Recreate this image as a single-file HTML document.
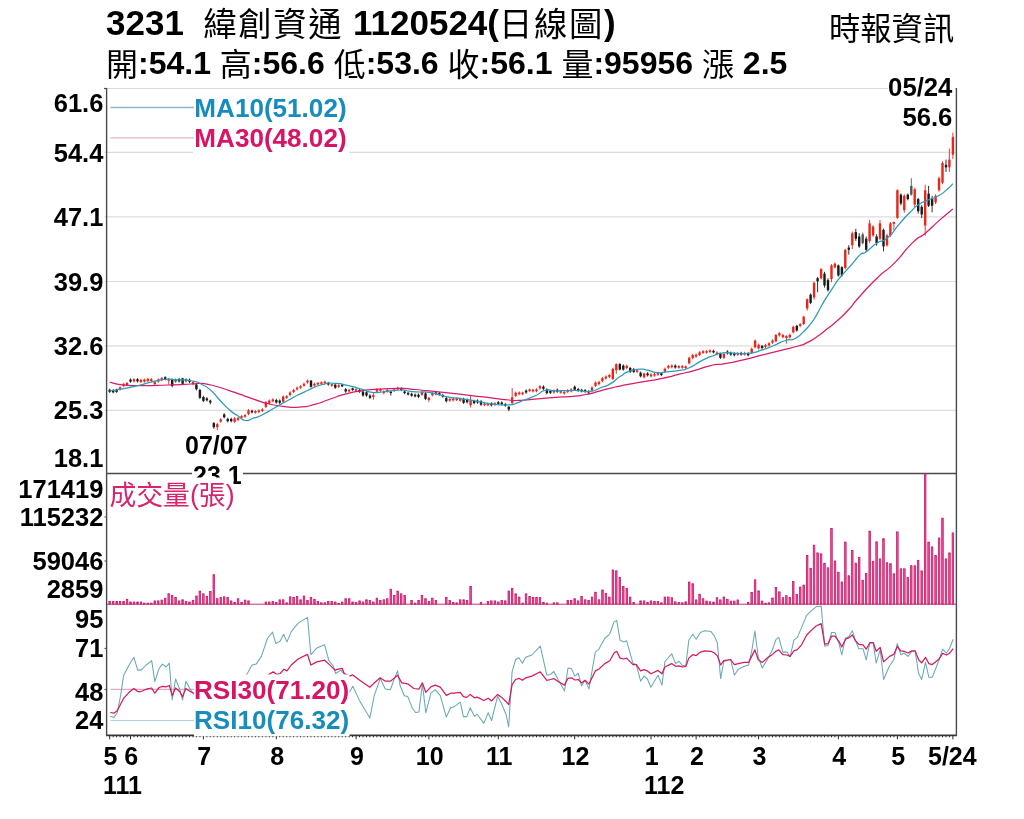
<!DOCTYPE html>
<html lang="zh-Hant"><head><meta charset="utf-8"><title>3231 緯創資通 日線圖</title>
<style>html,body{margin:0;padding:0;background:#fff}svg{display:block}</style></head>
<body>
<svg width="1024" height="819" viewBox="0 0 1024 819" font-family="Liberation Sans, Noto Sans CJK TC, sans-serif">
<rect width="1024" height="819" fill="#fff"/>
<line x1="104.5" x2="956" y1="88.5" y2="88.5" stroke="#dcdcdc" stroke-width="1.2"/>
<line x1="104.5" x2="956" y1="152.3" y2="152.3" stroke="#dcdcdc" stroke-width="1.2"/>
<line x1="104.5" x2="956" y1="216.8" y2="216.8" stroke="#dcdcdc" stroke-width="1.2"/>
<line x1="104.5" x2="956" y1="281.5" y2="281.5" stroke="#dcdcdc" stroke-width="1.2"/>
<line x1="104.5" x2="956" y1="345.8" y2="345.8" stroke="#dcdcdc" stroke-width="1.2"/>
<line x1="104.5" x2="956" y1="410.3" y2="410.3" stroke="#dcdcdc" stroke-width="1.2"/>
<g shape-rendering="auto">
<line x1="109.7" x2="109.7" y1="388.7" y2="392.9" stroke="#1a1a1a" stroke-width="0.9"/>
<rect x="108.5" y="389.7" width="2.4" height="2.2" fill="#1a1a1a"/>
<line x1="113.2" x2="113.2" y1="389.1" y2="393.4" stroke="#1a1a1a" stroke-width="0.9"/>
<rect x="112.0" y="390.1" width="2.4" height="2.2" fill="#1a1a1a"/>
<line x1="116.6" x2="116.6" y1="388.7" y2="392.9" stroke="#1a1a1a" stroke-width="0.9"/>
<rect x="115.4" y="389.7" width="2.4" height="2.2" fill="#1a1a1a"/>
<line x1="120.1" x2="120.1" y1="386.3" y2="390.5" stroke="#e8261c" stroke-width="0.9"/>
<rect x="118.9" y="387.3" width="2.4" height="2.2" fill="#e8261c"/>
<line x1="123.6" x2="123.6" y1="382.9" y2="387.1" stroke="#e8261c" stroke-width="0.9"/>
<rect x="122.4" y="383.9" width="2.4" height="2.2" fill="#e8261c"/>
<line x1="127.1" x2="127.1" y1="382.0" y2="386.2" stroke="#e8261c" stroke-width="0.9"/>
<rect x="125.9" y="383.0" width="2.4" height="2.2" fill="#e8261c"/>
<line x1="130.5" x2="130.5" y1="378.5" y2="382.7" stroke="#1a1a1a" stroke-width="0.9"/>
<rect x="129.3" y="379.5" width="2.4" height="2.2" fill="#1a1a1a"/>
<line x1="134.0" x2="134.0" y1="378.2" y2="382.4" stroke="#e8261c" stroke-width="0.9"/>
<rect x="132.8" y="379.2" width="2.4" height="2.2" fill="#e8261c"/>
<line x1="137.5" x2="137.5" y1="378.2" y2="382.4" stroke="#1a1a1a" stroke-width="0.9"/>
<rect x="136.3" y="379.2" width="2.4" height="2.2" fill="#1a1a1a"/>
<line x1="140.9" x2="140.9" y1="378.8" y2="383.0" stroke="#e8261c" stroke-width="0.9"/>
<rect x="139.7" y="379.8" width="2.4" height="2.2" fill="#e8261c"/>
<line x1="144.4" x2="144.4" y1="378.5" y2="382.7" stroke="#e8261c" stroke-width="0.9"/>
<rect x="143.2" y="379.5" width="2.4" height="2.2" fill="#e8261c"/>
<line x1="147.9" x2="147.9" y1="377.9" y2="382.1" stroke="#e8261c" stroke-width="0.9"/>
<rect x="146.7" y="378.9" width="2.4" height="2.2" fill="#e8261c"/>
<line x1="151.3" x2="151.3" y1="377.9" y2="382.1" stroke="#e8261c" stroke-width="0.9"/>
<rect x="150.1" y="379.1" width="2.4" height="1.9" fill="#e8261c"/>
<line x1="154.8" x2="154.8" y1="380.7" y2="385.3" stroke="#e8261c" stroke-width="0.9"/>
<rect x="153.6" y="381.9" width="2.4" height="2.2" fill="#e8261c"/>
<line x1="158.3" x2="158.3" y1="378.5" y2="382.7" stroke="#e8261c" stroke-width="0.9"/>
<rect x="157.1" y="379.5" width="2.4" height="2.2" fill="#e8261c"/>
<line x1="161.8" x2="161.8" y1="377.0" y2="381.2" stroke="#e8261c" stroke-width="0.9"/>
<rect x="160.6" y="378.0" width="2.4" height="2.2" fill="#e8261c"/>
<line x1="165.2" x2="165.2" y1="376.2" y2="380.4" stroke="#1a1a1a" stroke-width="0.9"/>
<rect x="164.0" y="377.2" width="2.4" height="2.2" fill="#1a1a1a"/>
<line x1="168.7" x2="168.7" y1="378.3" y2="384.5" stroke="#e8261c" stroke-width="0.9"/>
<rect x="167.5" y="378.8" width="2.4" height="1.9" fill="#e8261c"/>
<line x1="172.2" x2="172.2" y1="378.6" y2="387.3" stroke="#1a1a1a" stroke-width="0.9"/>
<rect x="171.0" y="379.8" width="2.4" height="6.2" fill="#1a1a1a"/>
<line x1="175.6" x2="175.6" y1="378.5" y2="382.7" stroke="#555" stroke-width="0.9"/>
<rect x="174.4" y="379.5" width="2.4" height="2.2" fill="#555"/>
<line x1="179.1" x2="179.1" y1="377.9" y2="382.6" stroke="#1a1a1a" stroke-width="0.9"/>
<rect x="177.9" y="379.1" width="2.4" height="2.3" fill="#1a1a1a"/>
<line x1="182.6" x2="182.6" y1="377.8" y2="385.0" stroke="#1a1a1a" stroke-width="0.9"/>
<rect x="181.4" y="378.3" width="2.4" height="5.5" fill="#1a1a1a"/>
<line x1="186.0" x2="186.0" y1="378.2" y2="382.4" stroke="#555" stroke-width="0.9"/>
<rect x="184.8" y="379.2" width="2.4" height="2.2" fill="#555"/>
<line x1="189.5" x2="189.5" y1="378.6" y2="383.1" stroke="#1a1a1a" stroke-width="0.9"/>
<rect x="188.3" y="379.8" width="2.4" height="2.0" fill="#1a1a1a"/>
<line x1="193.0" x2="193.0" y1="380.9" y2="385.1" stroke="#e8261c" stroke-width="0.9"/>
<rect x="191.8" y="381.9" width="2.4" height="2.2" fill="#e8261c"/>
<line x1="196.4" x2="196.4" y1="383.3" y2="390.4" stroke="#1a1a1a" stroke-width="0.9"/>
<rect x="195.2" y="384.5" width="2.4" height="4.7" fill="#1a1a1a"/>
<line x1="199.9" x2="199.9" y1="388.8" y2="399.0" stroke="#1a1a1a" stroke-width="0.9"/>
<rect x="198.7" y="390.0" width="2.4" height="7.8" fill="#1a1a1a"/>
<line x1="203.4" x2="203.4" y1="395.8" y2="402.1" stroke="#1a1a1a" stroke-width="0.9"/>
<rect x="202.2" y="397.0" width="2.4" height="3.9" fill="#1a1a1a"/>
<line x1="206.9" x2="206.9" y1="397.2" y2="401.5" stroke="#1a1a1a" stroke-width="0.9"/>
<rect x="205.7" y="398.4" width="2.4" height="1.9" fill="#1a1a1a"/>
<line x1="210.3" x2="210.3" y1="399.7" y2="404.4" stroke="#1a1a1a" stroke-width="0.9"/>
<rect x="209.1" y="400.6" width="2.4" height="1.9" fill="#1a1a1a"/>
<line x1="213.8" x2="213.8" y1="422.0" y2="428.8" stroke="#1a1a1a" stroke-width="0.9"/>
<rect x="212.6" y="423.1" width="2.4" height="4.1" fill="#1a1a1a"/>
<line x1="217.3" x2="217.3" y1="422.8" y2="430.3" stroke="#e8261c" stroke-width="0.9"/>
<rect x="216.1" y="424.1" width="2.4" height="3.1" fill="#e8261c"/>
<line x1="220.7" x2="220.7" y1="418.2" y2="422.8" stroke="#e8261c" stroke-width="0.9"/>
<rect x="219.5" y="419.4" width="2.4" height="2.2" fill="#e8261c"/>
<line x1="224.2" x2="224.2" y1="413.2" y2="418.4" stroke="#1a1a1a" stroke-width="0.9"/>
<rect x="223.0" y="414.4" width="2.4" height="2.8" fill="#1a1a1a"/>
<line x1="227.7" x2="227.7" y1="417.7" y2="422.4" stroke="#1a1a1a" stroke-width="0.9"/>
<rect x="226.5" y="418.9" width="2.4" height="2.3" fill="#1a1a1a"/>
<line x1="231.2" x2="231.2" y1="417.7" y2="422.4" stroke="#1a1a1a" stroke-width="0.9"/>
<rect x="230.0" y="418.9" width="2.4" height="2.3" fill="#1a1a1a"/>
<line x1="234.6" x2="234.6" y1="417.2" y2="423.1" stroke="#e8261c" stroke-width="0.9"/>
<rect x="233.4" y="418.4" width="2.4" height="3.4" fill="#e8261c"/>
<line x1="238.1" x2="238.1" y1="416.9" y2="421.2" stroke="#e8261c" stroke-width="0.9"/>
<rect x="236.9" y="418.1" width="2.4" height="1.9" fill="#e8261c"/>
<line x1="241.6" x2="241.6" y1="415.1" y2="418.7" stroke="#e8261c" stroke-width="0.9"/>
<rect x="240.4" y="416.1" width="2.4" height="1.6" fill="#e8261c"/>
<line x1="245.0" x2="245.0" y1="414.1" y2="417.8" stroke="#e8261c" stroke-width="0.9"/>
<rect x="243.8" y="415.1" width="2.4" height="1.6" fill="#e8261c"/>
<line x1="248.5" x2="248.5" y1="409.1" y2="415.3" stroke="#e8261c" stroke-width="0.9"/>
<rect x="247.3" y="410.3" width="2.4" height="3.8" fill="#e8261c"/>
<line x1="252.0" x2="252.0" y1="409.7" y2="413.4" stroke="#1a1a1a" stroke-width="0.9"/>
<rect x="250.8" y="410.8" width="2.4" height="1.6" fill="#1a1a1a"/>
<line x1="255.4" x2="255.4" y1="410.1" y2="413.7" stroke="#e8261c" stroke-width="0.9"/>
<rect x="254.2" y="411.1" width="2.4" height="1.6" fill="#e8261c"/>
<line x1="258.9" x2="258.9" y1="409.4" y2="413.1" stroke="#e8261c" stroke-width="0.9"/>
<rect x="257.7" y="410.4" width="2.4" height="1.6" fill="#e8261c"/>
<line x1="262.4" x2="262.4" y1="408.2" y2="412.1" stroke="#e8261c" stroke-width="0.9"/>
<rect x="261.2" y="409.4" width="2.4" height="1.6" fill="#e8261c"/>
<line x1="265.9" x2="265.9" y1="401.0" y2="408.1" stroke="#e8261c" stroke-width="0.9"/>
<rect x="264.7" y="402.2" width="2.4" height="4.7" fill="#e8261c"/>
<line x1="269.3" x2="269.3" y1="399.4" y2="404.5" stroke="#e8261c" stroke-width="0.9"/>
<rect x="268.1" y="400.6" width="2.4" height="2.7" fill="#e8261c"/>
<line x1="272.8" x2="272.8" y1="398.2" y2="402.4" stroke="#e8261c" stroke-width="0.9"/>
<rect x="271.6" y="399.4" width="2.4" height="1.9" fill="#e8261c"/>
<line x1="276.3" x2="276.3" y1="398.8" y2="403.7" stroke="#1a1a1a" stroke-width="0.9"/>
<rect x="275.1" y="400.0" width="2.4" height="2.5" fill="#1a1a1a"/>
<line x1="279.7" x2="279.7" y1="399.4" y2="404.0" stroke="#1a1a1a" stroke-width="0.9"/>
<rect x="278.5" y="400.6" width="2.4" height="2.2" fill="#1a1a1a"/>
<line x1="283.2" x2="283.2" y1="395.4" y2="402.9" stroke="#e8261c" stroke-width="0.9"/>
<rect x="282.0" y="396.6" width="2.4" height="5.2" fill="#e8261c"/>
<line x1="286.7" x2="286.7" y1="395.1" y2="399.0" stroke="#e8261c" stroke-width="0.9"/>
<rect x="285.5" y="396.2" width="2.4" height="1.6" fill="#e8261c"/>
<line x1="290.1" x2="290.1" y1="391.3" y2="396.2" stroke="#e8261c" stroke-width="0.9"/>
<rect x="288.9" y="392.5" width="2.4" height="2.5" fill="#e8261c"/>
<line x1="293.6" x2="293.6" y1="388.8" y2="393.1" stroke="#e8261c" stroke-width="0.9"/>
<rect x="292.4" y="390.0" width="2.4" height="1.9" fill="#e8261c"/>
<line x1="297.1" x2="297.1" y1="386.5" y2="390.6" stroke="#e8261c" stroke-width="0.9"/>
<rect x="295.9" y="387.7" width="2.4" height="1.7" fill="#e8261c"/>
<line x1="300.6" x2="300.6" y1="385.1" y2="389.0" stroke="#e8261c" stroke-width="0.9"/>
<rect x="299.4" y="386.2" width="2.4" height="1.6" fill="#e8261c"/>
<line x1="304.0" x2="304.0" y1="382.6" y2="386.8" stroke="#e8261c" stroke-width="0.9"/>
<rect x="302.8" y="383.8" width="2.4" height="1.9" fill="#e8261c"/>
<line x1="307.5" x2="307.5" y1="379.4" y2="383.7" stroke="#e8261c" stroke-width="0.9"/>
<rect x="306.3" y="380.6" width="2.4" height="1.9" fill="#e8261c"/>
<line x1="311.0" x2="311.0" y1="380.0" y2="387.5" stroke="#1a1a1a" stroke-width="0.9"/>
<rect x="309.8" y="380.6" width="2.4" height="6.2" fill="#1a1a1a"/>
<line x1="314.4" x2="314.4" y1="382.6" y2="386.8" stroke="#e8261c" stroke-width="0.9"/>
<rect x="313.2" y="383.8" width="2.4" height="1.9" fill="#e8261c"/>
<line x1="317.9" x2="317.9" y1="381.9" y2="385.6" stroke="#e8261c" stroke-width="0.9"/>
<rect x="316.7" y="382.9" width="2.4" height="1.6" fill="#e8261c"/>
<line x1="321.4" x2="321.4" y1="381.3" y2="384.9" stroke="#e8261c" stroke-width="0.9"/>
<rect x="320.2" y="382.3" width="2.4" height="1.6" fill="#e8261c"/>
<line x1="324.8" x2="324.8" y1="380.7" y2="384.3" stroke="#e8261c" stroke-width="0.9"/>
<rect x="323.6" y="381.7" width="2.4" height="1.6" fill="#e8261c"/>
<line x1="328.3" x2="328.3" y1="381.9" y2="385.6" stroke="#1a1a1a" stroke-width="0.9"/>
<rect x="327.1" y="382.9" width="2.4" height="1.6" fill="#1a1a1a"/>
<line x1="331.8" x2="331.8" y1="383.2" y2="386.8" stroke="#e8261c" stroke-width="0.9"/>
<rect x="330.6" y="384.2" width="2.4" height="1.6" fill="#e8261c"/>
<line x1="335.2" x2="335.2" y1="383.5" y2="388.9" stroke="#1a1a1a" stroke-width="0.9"/>
<rect x="334.1" y="384.7" width="2.4" height="3.0" fill="#1a1a1a"/>
<line x1="338.7" x2="338.7" y1="384.1" y2="388.1" stroke="#e8261c" stroke-width="0.9"/>
<rect x="337.5" y="385.3" width="2.4" height="1.6" fill="#e8261c"/>
<line x1="342.2" x2="342.2" y1="383.8" y2="387.1" stroke="#1a1a1a" stroke-width="0.9"/>
<rect x="341.0" y="384.7" width="2.4" height="1.6" fill="#1a1a1a"/>
<line x1="345.7" x2="345.7" y1="388.0" y2="392.8" stroke="#1a1a1a" stroke-width="0.9"/>
<rect x="344.5" y="389.2" width="2.4" height="2.3" fill="#1a1a1a"/>
<line x1="349.1" x2="349.1" y1="388.8" y2="392.4" stroke="#e8261c" stroke-width="0.9"/>
<rect x="347.9" y="389.8" width="2.4" height="1.6" fill="#e8261c"/>
<line x1="352.6" x2="352.6" y1="387.6" y2="390.9" stroke="#1a1a1a" stroke-width="0.9"/>
<rect x="351.4" y="388.4" width="2.4" height="1.6" fill="#1a1a1a"/>
<line x1="356.1" x2="356.1" y1="388.2" y2="391.8" stroke="#e8261c" stroke-width="0.9"/>
<rect x="354.9" y="389.2" width="2.4" height="1.6" fill="#e8261c"/>
<line x1="359.5" x2="359.5" y1="388.8" y2="392.8" stroke="#1a1a1a" stroke-width="0.9"/>
<rect x="358.3" y="390.0" width="2.4" height="1.6" fill="#1a1a1a"/>
<line x1="363.0" x2="363.0" y1="390.4" y2="396.7" stroke="#1a1a1a" stroke-width="0.9"/>
<rect x="361.8" y="391.6" width="2.4" height="3.9" fill="#1a1a1a"/>
<line x1="366.5" x2="366.5" y1="391.1" y2="396.8" stroke="#1a1a1a" stroke-width="0.9"/>
<rect x="365.3" y="392.3" width="2.4" height="3.3" fill="#1a1a1a"/>
<line x1="369.9" x2="369.9" y1="394.3" y2="399.0" stroke="#1a1a1a" stroke-width="0.9"/>
<rect x="368.8" y="395.5" width="2.4" height="2.3" fill="#1a1a1a"/>
<line x1="373.4" x2="373.4" y1="393.1" y2="399.7" stroke="#e8261c" stroke-width="0.9"/>
<rect x="372.2" y="395.0" width="2.4" height="1.9" fill="#e8261c"/>
<line x1="376.9" x2="376.9" y1="388.2" y2="392.8" stroke="#e8261c" stroke-width="0.9"/>
<rect x="375.7" y="389.4" width="2.4" height="2.2" fill="#e8261c"/>
<line x1="380.4" x2="380.4" y1="388.2" y2="391.8" stroke="#e8261c" stroke-width="0.9"/>
<rect x="379.2" y="389.2" width="2.4" height="1.6" fill="#e8261c"/>
<line x1="383.8" x2="383.8" y1="390.4" y2="394.3" stroke="#e8261c" stroke-width="0.9"/>
<rect x="382.6" y="391.5" width="2.4" height="1.6" fill="#e8261c"/>
<line x1="387.3" x2="387.3" y1="388.8" y2="392.8" stroke="#e8261c" stroke-width="0.9"/>
<rect x="386.1" y="390.0" width="2.4" height="1.6" fill="#e8261c"/>
<line x1="390.8" x2="390.8" y1="391.2" y2="395.6" stroke="#1a1a1a" stroke-width="0.9"/>
<rect x="389.6" y="391.5" width="2.4" height="1.6" fill="#1a1a1a"/>
<line x1="394.2" x2="394.2" y1="388.2" y2="392.1" stroke="#e8261c" stroke-width="0.9"/>
<rect x="393.0" y="389.4" width="2.4" height="1.6" fill="#e8261c"/>
<line x1="397.7" x2="397.7" y1="386.6" y2="390.6" stroke="#e8261c" stroke-width="0.9"/>
<rect x="396.5" y="387.8" width="2.4" height="1.6" fill="#e8261c"/>
<line x1="401.2" x2="401.2" y1="387.2" y2="391.2" stroke="#1a1a1a" stroke-width="0.9"/>
<rect x="400.0" y="388.4" width="2.4" height="1.6" fill="#1a1a1a"/>
<line x1="404.6" x2="404.6" y1="390.4" y2="394.3" stroke="#1a1a1a" stroke-width="0.9"/>
<rect x="403.4" y="391.5" width="2.4" height="1.6" fill="#1a1a1a"/>
<line x1="408.1" x2="408.1" y1="391.9" y2="395.6" stroke="#1a1a1a" stroke-width="0.9"/>
<rect x="406.9" y="392.9" width="2.4" height="1.6" fill="#1a1a1a"/>
<line x1="411.6" x2="411.6" y1="392.6" y2="396.8" stroke="#1a1a1a" stroke-width="0.9"/>
<rect x="410.4" y="393.8" width="2.4" height="1.9" fill="#1a1a1a"/>
<line x1="415.1" x2="415.1" y1="393.5" y2="397.4" stroke="#1a1a1a" stroke-width="0.9"/>
<rect x="413.9" y="394.7" width="2.4" height="1.6" fill="#1a1a1a"/>
<line x1="418.5" x2="418.5" y1="393.5" y2="398.1" stroke="#1a1a1a" stroke-width="0.9"/>
<rect x="417.3" y="394.7" width="2.4" height="2.2" fill="#1a1a1a"/>
<line x1="422.0" x2="422.0" y1="390.7" y2="395.9" stroke="#e8261c" stroke-width="0.9"/>
<rect x="420.8" y="391.9" width="2.4" height="2.8" fill="#e8261c"/>
<line x1="425.5" x2="425.5" y1="392.2" y2="400.1" stroke="#1a1a1a" stroke-width="0.9"/>
<rect x="424.3" y="393.4" width="2.4" height="5.5" fill="#1a1a1a"/>
<line x1="428.9" x2="428.9" y1="396.9" y2="402.2" stroke="#e8261c" stroke-width="0.9"/>
<rect x="427.7" y="397.8" width="2.4" height="2.2" fill="#e8261c"/>
<line x1="432.4" x2="432.4" y1="391.9" y2="396.5" stroke="#e8261c" stroke-width="0.9"/>
<rect x="431.2" y="393.1" width="2.4" height="2.2" fill="#e8261c"/>
<line x1="435.9" x2="435.9" y1="391.3" y2="395.3" stroke="#1a1a1a" stroke-width="0.9"/>
<rect x="434.7" y="392.5" width="2.4" height="1.6" fill="#1a1a1a"/>
<line x1="439.4" x2="439.4" y1="391.9" y2="395.9" stroke="#1a1a1a" stroke-width="0.9"/>
<rect x="438.2" y="393.1" width="2.4" height="1.6" fill="#1a1a1a"/>
<line x1="442.8" x2="442.8" y1="393.8" y2="397.8" stroke="#1a1a1a" stroke-width="0.9"/>
<rect x="441.6" y="395.0" width="2.4" height="1.6" fill="#1a1a1a"/>
<line x1="446.3" x2="446.3" y1="396.9" y2="402.4" stroke="#1a1a1a" stroke-width="0.9"/>
<rect x="445.1" y="398.1" width="2.4" height="3.1" fill="#1a1a1a"/>
<line x1="449.8" x2="449.8" y1="397.9" y2="401.8" stroke="#e8261c" stroke-width="0.9"/>
<rect x="448.6" y="399.0" width="2.4" height="1.6" fill="#e8261c"/>
<line x1="453.2" x2="453.2" y1="397.6" y2="401.5" stroke="#e8261c" stroke-width="0.9"/>
<rect x="452.0" y="398.7" width="2.4" height="1.6" fill="#e8261c"/>
<line x1="456.7" x2="456.7" y1="397.2" y2="401.2" stroke="#e8261c" stroke-width="0.9"/>
<rect x="455.5" y="398.4" width="2.4" height="1.6" fill="#e8261c"/>
<line x1="460.2" x2="460.2" y1="397.6" y2="401.8" stroke="#e8261c" stroke-width="0.9"/>
<rect x="459.0" y="398.8" width="2.4" height="1.9" fill="#e8261c"/>
<line x1="463.6" x2="463.6" y1="397.7" y2="404.0" stroke="#1a1a1a" stroke-width="0.9"/>
<rect x="462.4" y="398.9" width="2.4" height="3.9" fill="#1a1a1a"/>
<line x1="467.1" x2="467.1" y1="398.5" y2="403.4" stroke="#1a1a1a" stroke-width="0.9"/>
<rect x="465.9" y="399.7" width="2.4" height="2.5" fill="#1a1a1a"/>
<line x1="470.6" x2="470.6" y1="395.0" y2="407.5" stroke="#e8261c" stroke-width="0.9"/>
<rect x="469.4" y="400.5" width="2.4" height="4.7" fill="#e8261c"/>
<line x1="474.1" x2="474.1" y1="399.7" y2="404.3" stroke="#1a1a1a" stroke-width="0.9"/>
<rect x="472.9" y="400.9" width="2.4" height="2.2" fill="#1a1a1a"/>
<line x1="477.5" x2="477.5" y1="399.4" y2="403.7" stroke="#1a1a1a" stroke-width="0.9"/>
<rect x="476.3" y="400.6" width="2.4" height="1.9" fill="#1a1a1a"/>
<line x1="481.0" x2="481.0" y1="400.1" y2="405.9" stroke="#1a1a1a" stroke-width="0.9"/>
<rect x="479.8" y="401.2" width="2.4" height="3.4" fill="#1a1a1a"/>
<line x1="484.5" x2="484.5" y1="402.6" y2="406.2" stroke="#e8261c" stroke-width="0.9"/>
<rect x="483.3" y="403.6" width="2.4" height="1.6" fill="#e8261c"/>
<line x1="487.9" x2="487.9" y1="402.6" y2="406.2" stroke="#e8261c" stroke-width="0.9"/>
<rect x="486.7" y="403.6" width="2.4" height="1.6" fill="#e8261c"/>
<line x1="491.4" x2="491.4" y1="402.2" y2="406.5" stroke="#1a1a1a" stroke-width="0.9"/>
<rect x="490.2" y="403.4" width="2.4" height="1.9" fill="#1a1a1a"/>
<line x1="494.9" x2="494.9" y1="402.2" y2="405.9" stroke="#e8261c" stroke-width="0.9"/>
<rect x="493.7" y="403.3" width="2.4" height="1.6" fill="#e8261c"/>
<line x1="498.3" x2="498.3" y1="401.0" y2="404.9" stroke="#1a1a1a" stroke-width="0.9"/>
<rect x="497.1" y="402.2" width="2.4" height="1.6" fill="#1a1a1a"/>
<line x1="501.8" x2="501.8" y1="401.3" y2="405.3" stroke="#1a1a1a" stroke-width="0.9"/>
<rect x="500.6" y="402.5" width="2.4" height="1.6" fill="#1a1a1a"/>
<line x1="505.3" x2="505.3" y1="402.9" y2="406.8" stroke="#1a1a1a" stroke-width="0.9"/>
<rect x="504.1" y="404.0" width="2.4" height="1.6" fill="#1a1a1a"/>
<line x1="508.8" x2="508.8" y1="406.2" y2="411.2" stroke="#1a1a1a" stroke-width="0.9"/>
<rect x="507.6" y="406.7" width="2.4" height="2.7" fill="#1a1a1a"/>
<line x1="512.2" x2="512.2" y1="388.0" y2="404.4" stroke="#e8261c" stroke-width="0.9"/>
<rect x="511.0" y="397.3" width="2.4" height="5.8" fill="#e8261c"/>
<line x1="515.7" x2="515.7" y1="391.5" y2="397.0" stroke="#e8261c" stroke-width="0.9"/>
<rect x="514.5" y="392.7" width="2.4" height="3.1" fill="#e8261c"/>
<line x1="519.2" x2="519.2" y1="391.3" y2="395.3" stroke="#e8261c" stroke-width="0.9"/>
<rect x="518.0" y="392.5" width="2.4" height="1.6" fill="#e8261c"/>
<line x1="522.6" x2="522.6" y1="391.6" y2="395.3" stroke="#e8261c" stroke-width="0.9"/>
<rect x="521.4" y="392.6" width="2.4" height="1.6" fill="#e8261c"/>
<line x1="526.1" x2="526.1" y1="389.4" y2="393.7" stroke="#1a1a1a" stroke-width="0.9"/>
<rect x="524.9" y="390.6" width="2.4" height="1.9" fill="#1a1a1a"/>
<line x1="529.6" x2="529.6" y1="388.5" y2="392.1" stroke="#e8261c" stroke-width="0.9"/>
<rect x="528.4" y="389.5" width="2.4" height="1.6" fill="#e8261c"/>
<line x1="533.0" x2="533.0" y1="388.8" y2="392.4" stroke="#e8261c" stroke-width="0.9"/>
<rect x="531.8" y="389.8" width="2.4" height="1.6" fill="#e8261c"/>
<line x1="536.5" x2="536.5" y1="388.2" y2="392.4" stroke="#e8261c" stroke-width="0.9"/>
<rect x="535.3" y="389.4" width="2.4" height="1.9" fill="#e8261c"/>
<line x1="540.0" x2="540.0" y1="385.1" y2="389.6" stroke="#e8261c" stroke-width="0.9"/>
<rect x="538.8" y="386.2" width="2.4" height="2.2" fill="#e8261c"/>
<line x1="543.5" x2="543.5" y1="385.4" y2="389.9" stroke="#1a1a1a" stroke-width="0.9"/>
<rect x="542.2" y="386.6" width="2.4" height="2.2" fill="#1a1a1a"/>
<line x1="546.9" x2="546.9" y1="388.3" y2="394.3" stroke="#1a1a1a" stroke-width="0.9"/>
<rect x="545.7" y="389.5" width="2.4" height="3.6" fill="#1a1a1a"/>
<line x1="550.4" x2="550.4" y1="389.7" y2="394.0" stroke="#1a1a1a" stroke-width="0.9"/>
<rect x="549.2" y="390.9" width="2.4" height="1.9" fill="#1a1a1a"/>
<line x1="553.9" x2="553.9" y1="389.4" y2="393.7" stroke="#e8261c" stroke-width="0.9"/>
<rect x="552.7" y="390.6" width="2.4" height="1.9" fill="#e8261c"/>
<line x1="557.3" x2="557.3" y1="388.5" y2="392.8" stroke="#1a1a1a" stroke-width="0.9"/>
<rect x="556.1" y="389.7" width="2.4" height="1.9" fill="#1a1a1a"/>
<line x1="560.8" x2="560.8" y1="390.1" y2="393.7" stroke="#e8261c" stroke-width="0.9"/>
<rect x="559.6" y="391.1" width="2.4" height="1.6" fill="#e8261c"/>
<line x1="564.3" x2="564.3" y1="390.7" y2="394.6" stroke="#e8261c" stroke-width="0.9"/>
<rect x="563.1" y="391.9" width="2.4" height="1.6" fill="#e8261c"/>
<line x1="567.7" x2="567.7" y1="389.1" y2="393.1" stroke="#e8261c" stroke-width="0.9"/>
<rect x="566.5" y="390.3" width="2.4" height="1.6" fill="#e8261c"/>
<line x1="571.2" x2="571.2" y1="388.2" y2="392.4" stroke="#e8261c" stroke-width="0.9"/>
<rect x="570.0" y="389.4" width="2.4" height="1.9" fill="#e8261c"/>
<line x1="574.7" x2="574.7" y1="385.5" y2="391.0" stroke="#1a1a1a" stroke-width="0.9"/>
<rect x="573.5" y="386.7" width="2.4" height="3.1" fill="#1a1a1a"/>
<line x1="578.2" x2="578.2" y1="387.9" y2="391.8" stroke="#1a1a1a" stroke-width="0.9"/>
<rect x="577.0" y="389.0" width="2.4" height="1.6" fill="#1a1a1a"/>
<line x1="581.6" x2="581.6" y1="388.8" y2="392.4" stroke="#1a1a1a" stroke-width="0.9"/>
<rect x="580.4" y="389.8" width="2.4" height="1.6" fill="#1a1a1a"/>
<line x1="585.1" x2="585.1" y1="389.1" y2="392.8" stroke="#1a1a1a" stroke-width="0.9"/>
<rect x="583.9" y="390.1" width="2.4" height="1.6" fill="#1a1a1a"/>
<line x1="588.6" x2="588.6" y1="390.3" y2="393.8" stroke="#1a1a1a" stroke-width="0.9"/>
<rect x="587.4" y="390.9" width="2.4" height="1.6" fill="#1a1a1a"/>
<line x1="592.0" x2="592.0" y1="386.3" y2="391.8" stroke="#e8261c" stroke-width="0.9"/>
<rect x="590.8" y="387.5" width="2.4" height="3.1" fill="#e8261c"/>
<line x1="595.5" x2="595.5" y1="381.3" y2="387.1" stroke="#e8261c" stroke-width="0.9"/>
<rect x="594.3" y="382.5" width="2.4" height="3.4" fill="#e8261c"/>
<line x1="599.0" x2="599.0" y1="380.7" y2="385.3" stroke="#e8261c" stroke-width="0.9"/>
<rect x="597.8" y="381.9" width="2.4" height="2.2" fill="#e8261c"/>
<line x1="602.4" x2="602.4" y1="376.9" y2="382.4" stroke="#e8261c" stroke-width="0.9"/>
<rect x="601.2" y="378.1" width="2.4" height="3.1" fill="#e8261c"/>
<line x1="605.9" x2="605.9" y1="375.4" y2="379.6" stroke="#e8261c" stroke-width="0.9"/>
<rect x="604.7" y="376.6" width="2.4" height="1.9" fill="#e8261c"/>
<line x1="609.4" x2="609.4" y1="373.8" y2="378.1" stroke="#e8261c" stroke-width="0.9"/>
<rect x="608.2" y="375.0" width="2.4" height="1.9" fill="#e8261c"/>
<line x1="612.9" x2="612.9" y1="367.6" y2="380.1" stroke="#e8261c" stroke-width="0.9"/>
<rect x="611.6" y="368.8" width="2.4" height="10.2" fill="#e8261c"/>
<line x1="616.3" x2="616.3" y1="363.4" y2="373.8" stroke="#e8261c" stroke-width="0.9"/>
<rect x="615.1" y="364.1" width="2.4" height="6.2" fill="#e8261c"/>
<line x1="619.8" x2="619.8" y1="363.1" y2="370.3" stroke="#1a1a1a" stroke-width="0.9"/>
<rect x="618.6" y="364.1" width="2.4" height="5.5" fill="#1a1a1a"/>
<line x1="623.3" x2="623.3" y1="364.4" y2="370.7" stroke="#1a1a1a" stroke-width="0.9"/>
<rect x="622.1" y="365.6" width="2.4" height="3.9" fill="#1a1a1a"/>
<line x1="626.7" x2="626.7" y1="364.7" y2="369.3" stroke="#e8261c" stroke-width="0.9"/>
<rect x="625.5" y="365.9" width="2.4" height="2.2" fill="#e8261c"/>
<line x1="630.2" x2="630.2" y1="366.8" y2="373.1" stroke="#1a1a1a" stroke-width="0.9"/>
<rect x="629.0" y="368.0" width="2.4" height="3.9" fill="#1a1a1a"/>
<line x1="633.7" x2="633.7" y1="367.9" y2="373.1" stroke="#1a1a1a" stroke-width="0.9"/>
<rect x="632.5" y="369.1" width="2.4" height="2.8" fill="#1a1a1a"/>
<line x1="637.1" x2="637.1" y1="369.1" y2="373.1" stroke="#e8261c" stroke-width="0.9"/>
<rect x="635.9" y="370.3" width="2.4" height="1.6" fill="#e8261c"/>
<line x1="640.6" x2="640.6" y1="371.5" y2="377.4" stroke="#1a1a1a" stroke-width="0.9"/>
<rect x="639.4" y="372.7" width="2.4" height="3.6" fill="#1a1a1a"/>
<line x1="644.1" x2="644.1" y1="372.8" y2="378.4" stroke="#e8261c" stroke-width="0.9"/>
<rect x="642.9" y="373.4" width="2.4" height="3.9" fill="#e8261c"/>
<line x1="647.6" x2="647.6" y1="372.2" y2="376.5" stroke="#1a1a1a" stroke-width="0.9"/>
<rect x="646.4" y="373.4" width="2.4" height="1.9" fill="#1a1a1a"/>
<line x1="651.0" x2="651.0" y1="373.2" y2="377.4" stroke="#e8261c" stroke-width="0.9"/>
<rect x="649.8" y="374.4" width="2.4" height="1.9" fill="#e8261c"/>
<line x1="654.5" x2="654.5" y1="372.9" y2="376.8" stroke="#e8261c" stroke-width="0.9"/>
<rect x="653.3" y="374.0" width="2.4" height="1.6" fill="#e8261c"/>
<line x1="658.0" x2="658.0" y1="371.9" y2="375.9" stroke="#e8261c" stroke-width="0.9"/>
<rect x="656.8" y="373.1" width="2.4" height="1.6" fill="#e8261c"/>
<line x1="661.4" x2="661.4" y1="372.2" y2="376.2" stroke="#1a1a1a" stroke-width="0.9"/>
<rect x="660.2" y="373.4" width="2.4" height="1.6" fill="#1a1a1a"/>
<line x1="664.9" x2="664.9" y1="367.6" y2="372.8" stroke="#e8261c" stroke-width="0.9"/>
<rect x="663.7" y="368.8" width="2.4" height="2.8" fill="#e8261c"/>
<line x1="668.4" x2="668.4" y1="364.7" y2="369.0" stroke="#e8261c" stroke-width="0.9"/>
<rect x="667.2" y="365.9" width="2.4" height="1.9" fill="#e8261c"/>
<line x1="671.8" x2="671.8" y1="364.4" y2="368.4" stroke="#e8261c" stroke-width="0.9"/>
<rect x="670.6" y="365.6" width="2.4" height="1.6" fill="#e8261c"/>
<line x1="675.3" x2="675.3" y1="364.4" y2="368.7" stroke="#1a1a1a" stroke-width="0.9"/>
<rect x="674.1" y="365.6" width="2.4" height="1.9" fill="#1a1a1a"/>
<line x1="678.8" x2="678.8" y1="365.1" y2="368.7" stroke="#e8261c" stroke-width="0.9"/>
<rect x="677.6" y="366.1" width="2.4" height="1.6" fill="#e8261c"/>
<line x1="682.3" x2="682.3" y1="365.1" y2="368.7" stroke="#e8261c" stroke-width="0.9"/>
<rect x="681.1" y="366.1" width="2.4" height="1.6" fill="#e8261c"/>
<line x1="685.7" x2="685.7" y1="365.4" y2="369.0" stroke="#e8261c" stroke-width="0.9"/>
<rect x="684.5" y="366.4" width="2.4" height="1.6" fill="#e8261c"/>
<line x1="689.2" x2="689.2" y1="356.6" y2="364.5" stroke="#e8261c" stroke-width="0.9"/>
<rect x="688.0" y="357.8" width="2.4" height="5.5" fill="#e8261c"/>
<line x1="692.7" x2="692.7" y1="353.8" y2="359.3" stroke="#e8261c" stroke-width="0.9"/>
<rect x="691.5" y="355.0" width="2.4" height="3.1" fill="#e8261c"/>
<line x1="696.1" x2="696.1" y1="353.5" y2="357.8" stroke="#e8261c" stroke-width="0.9"/>
<rect x="694.9" y="354.7" width="2.4" height="1.9" fill="#e8261c"/>
<line x1="699.6" x2="699.6" y1="351.1" y2="356.2" stroke="#e8261c" stroke-width="0.9"/>
<rect x="698.4" y="352.3" width="2.4" height="2.7" fill="#e8261c"/>
<line x1="703.1" x2="703.1" y1="350.1" y2="354.0" stroke="#e8261c" stroke-width="0.9"/>
<rect x="701.9" y="351.2" width="2.4" height="1.6" fill="#e8261c"/>
<line x1="706.5" x2="706.5" y1="350.1" y2="353.7" stroke="#e8261c" stroke-width="0.9"/>
<rect x="705.3" y="351.1" width="2.4" height="1.6" fill="#e8261c"/>
<line x1="710.0" x2="710.0" y1="349.4" y2="353.1" stroke="#e8261c" stroke-width="0.9"/>
<rect x="708.8" y="350.4" width="2.4" height="1.6" fill="#e8261c"/>
<line x1="713.5" x2="713.5" y1="349.7" y2="353.4" stroke="#1a1a1a" stroke-width="0.9"/>
<rect x="712.3" y="350.8" width="2.4" height="1.6" fill="#1a1a1a"/>
<line x1="717.0" x2="717.0" y1="351.3" y2="355.3" stroke="#e8261c" stroke-width="0.9"/>
<rect x="715.8" y="352.5" width="2.4" height="1.6" fill="#e8261c"/>
<line x1="720.4" x2="720.4" y1="352.7" y2="359.0" stroke="#1a1a1a" stroke-width="0.9"/>
<rect x="719.2" y="353.9" width="2.4" height="3.9" fill="#1a1a1a"/>
<line x1="723.9" x2="723.9" y1="352.7" y2="359.0" stroke="#e8261c" stroke-width="0.9"/>
<rect x="722.7" y="353.9" width="2.4" height="3.9" fill="#e8261c"/>
<line x1="727.4" x2="727.4" y1="350.3" y2="354.6" stroke="#1a1a1a" stroke-width="0.9"/>
<rect x="726.2" y="351.5" width="2.4" height="1.8" fill="#1a1a1a"/>
<line x1="730.8" x2="730.8" y1="351.6" y2="355.8" stroke="#1a1a1a" stroke-width="0.9"/>
<rect x="729.6" y="352.8" width="2.4" height="1.8" fill="#1a1a1a"/>
<line x1="734.3" x2="734.3" y1="352.2" y2="356.4" stroke="#1a1a1a" stroke-width="0.9"/>
<rect x="733.1" y="353.4" width="2.4" height="1.8" fill="#1a1a1a"/>
<line x1="737.8" x2="737.8" y1="352.0" y2="355.8" stroke="#e8261c" stroke-width="0.9"/>
<rect x="736.6" y="353.1" width="2.4" height="1.6" fill="#e8261c"/>
<line x1="741.2" x2="741.2" y1="351.8" y2="355.7" stroke="#1a1a1a" stroke-width="0.9"/>
<rect x="740.0" y="352.9" width="2.4" height="1.6" fill="#1a1a1a"/>
<line x1="744.7" x2="744.7" y1="351.8" y2="355.7" stroke="#e8261c" stroke-width="0.9"/>
<rect x="743.5" y="352.9" width="2.4" height="1.6" fill="#e8261c"/>
<line x1="748.2" x2="748.2" y1="352.2" y2="356.4" stroke="#1a1a1a" stroke-width="0.9"/>
<rect x="747.0" y="353.4" width="2.4" height="1.8" fill="#1a1a1a"/>
<line x1="751.7" x2="751.7" y1="347.6" y2="354.0" stroke="#e8261c" stroke-width="0.9"/>
<rect x="750.5" y="348.8" width="2.4" height="4.0" fill="#e8261c"/>
<line x1="755.1" x2="755.1" y1="339.6" y2="348.4" stroke="#e8261c" stroke-width="0.9"/>
<rect x="753.9" y="340.5" width="2.4" height="6.8" fill="#e8261c"/>
<line x1="758.6" x2="758.6" y1="343.5" y2="349.6" stroke="#e8261c" stroke-width="0.9"/>
<rect x="757.4" y="344.7" width="2.4" height="3.7" fill="#e8261c"/>
<line x1="762.1" x2="762.1" y1="345.1" y2="350.2" stroke="#1a1a1a" stroke-width="0.9"/>
<rect x="760.9" y="345.8" width="2.4" height="2.2" fill="#1a1a1a"/>
<line x1="765.5" x2="765.5" y1="343.9" y2="348.1" stroke="#e8261c" stroke-width="0.9"/>
<rect x="764.3" y="345.1" width="2.4" height="1.8" fill="#e8261c"/>
<line x1="769.0" x2="769.0" y1="342.1" y2="346.7" stroke="#e8261c" stroke-width="0.9"/>
<rect x="767.8" y="343.3" width="2.4" height="2.2" fill="#e8261c"/>
<line x1="772.5" x2="772.5" y1="339.3" y2="343.9" stroke="#e8261c" stroke-width="0.9"/>
<rect x="771.3" y="340.5" width="2.4" height="2.2" fill="#e8261c"/>
<line x1="775.9" x2="775.9" y1="334.1" y2="342.2" stroke="#e8261c" stroke-width="0.9"/>
<rect x="774.7" y="335.0" width="2.4" height="6.4" fill="#e8261c"/>
<line x1="779.4" x2="779.4" y1="332.0" y2="336.6" stroke="#e8261c" stroke-width="0.9"/>
<rect x="778.2" y="333.2" width="2.4" height="2.2" fill="#e8261c"/>
<line x1="782.9" x2="782.9" y1="333.8" y2="338.4" stroke="#e8261c" stroke-width="0.9"/>
<rect x="781.7" y="335.0" width="2.4" height="2.2" fill="#e8261c"/>
<line x1="786.4" x2="786.4" y1="335.2" y2="343.6" stroke="#e8261c" stroke-width="0.9"/>
<rect x="785.2" y="335.9" width="2.4" height="2.2" fill="#e8261c"/>
<line x1="789.8" x2="789.8" y1="333.6" y2="338.6" stroke="#e8261c" stroke-width="0.9"/>
<rect x="788.6" y="334.8" width="2.4" height="2.6" fill="#e8261c"/>
<line x1="793.3" x2="793.3" y1="325.7" y2="333.4" stroke="#e8261c" stroke-width="0.9"/>
<rect x="792.1" y="326.8" width="2.4" height="5.5" fill="#e8261c"/>
<line x1="796.8" x2="796.8" y1="324.7" y2="331.6" stroke="#1a1a1a" stroke-width="0.9"/>
<rect x="795.6" y="325.9" width="2.4" height="4.6" fill="#1a1a1a"/>
<line x1="800.2" x2="800.2" y1="323.0" y2="327.3" stroke="#e8261c" stroke-width="0.9"/>
<rect x="799.0" y="324.2" width="2.4" height="1.8" fill="#e8261c"/>
<line x1="803.7" x2="803.7" y1="315.8" y2="325.0" stroke="#e8261c" stroke-width="0.9"/>
<rect x="802.5" y="316.7" width="2.4" height="7.3" fill="#e8261c"/>
<line x1="807.2" x2="807.2" y1="298.4" y2="310.7" stroke="#e8261c" stroke-width="0.9"/>
<rect x="806.0" y="299.3" width="2.4" height="9.2" fill="#e8261c"/>
<line x1="810.6" x2="810.6" y1="293.4" y2="304.1" stroke="#1a1a1a" stroke-width="0.9"/>
<rect x="809.4" y="294.7" width="2.4" height="8.2" fill="#1a1a1a"/>
<line x1="814.1" x2="814.1" y1="281.7" y2="299.7" stroke="#e8261c" stroke-width="0.9"/>
<rect x="812.9" y="282.8" width="2.4" height="14.7" fill="#e8261c"/>
<line x1="817.6" x2="817.6" y1="276.9" y2="292.3" stroke="#1a1a1a" stroke-width="0.9"/>
<rect x="816.4" y="278.2" width="2.4" height="3.1" fill="#1a1a1a"/>
<line x1="821.1" x2="821.1" y1="268.1" y2="279.5" stroke="#e8261c" stroke-width="0.9"/>
<rect x="819.9" y="269.1" width="2.4" height="9.2" fill="#e8261c"/>
<line x1="824.5" x2="824.5" y1="271.8" y2="287.6" stroke="#1a1a1a" stroke-width="0.9"/>
<rect x="823.3" y="273.6" width="2.4" height="11.9" fill="#1a1a1a"/>
<line x1="828.0" x2="828.0" y1="278.2" y2="291.6" stroke="#1a1a1a" stroke-width="0.9"/>
<rect x="826.8" y="280.1" width="2.4" height="10.1" fill="#1a1a1a"/>
<line x1="831.5" x2="831.5" y1="264.1" y2="282.1" stroke="#e8261c" stroke-width="0.9"/>
<rect x="830.3" y="265.4" width="2.4" height="13.7" fill="#e8261c"/>
<line x1="834.9" x2="834.9" y1="262.6" y2="268.5" stroke="#e8261c" stroke-width="0.9"/>
<rect x="833.7" y="263.6" width="2.4" height="3.7" fill="#e8261c"/>
<line x1="838.4" x2="838.4" y1="264.5" y2="276.6" stroke="#1a1a1a" stroke-width="0.9"/>
<rect x="837.2" y="265.4" width="2.4" height="10.1" fill="#1a1a1a"/>
<line x1="841.9" x2="841.9" y1="266.3" y2="276.6" stroke="#1a1a1a" stroke-width="0.9"/>
<rect x="840.7" y="267.2" width="2.4" height="8.2" fill="#1a1a1a"/>
<line x1="845.3" x2="845.3" y1="248.9" y2="269.2" stroke="#e8261c" stroke-width="0.9"/>
<rect x="844.1" y="249.8" width="2.4" height="18.3" fill="#e8261c"/>
<line x1="848.8" x2="848.8" y1="245.2" y2="254.6" stroke="#1a1a1a" stroke-width="0.9"/>
<rect x="847.6" y="247.6" width="2.4" height="2.2" fill="#1a1a1a"/>
<line x1="852.3" x2="852.3" y1="231.5" y2="249.1" stroke="#e8261c" stroke-width="0.9"/>
<rect x="851.1" y="233.3" width="2.4" height="11.9" fill="#e8261c"/>
<line x1="855.8" x2="855.8" y1="228.8" y2="240.9" stroke="#1a1a1a" stroke-width="0.9"/>
<rect x="854.6" y="232.1" width="2.4" height="6.6" fill="#1a1a1a"/>
<line x1="859.2" x2="859.2" y1="233.2" y2="247.9" stroke="#1a1a1a" stroke-width="0.9"/>
<rect x="858.0" y="236.5" width="2.4" height="9.9" fill="#1a1a1a"/>
<line x1="862.7" x2="862.7" y1="232.5" y2="244.4" stroke="#555" stroke-width="0.9"/>
<rect x="861.5" y="234.3" width="2.4" height="8.8" fill="#555"/>
<line x1="866.2" x2="866.2" y1="236.5" y2="251.9" stroke="#1a1a1a" stroke-width="0.9"/>
<rect x="865.0" y="238.7" width="2.4" height="11.0" fill="#1a1a1a"/>
<line x1="869.6" x2="869.6" y1="220.0" y2="243.1" stroke="#e8261c" stroke-width="0.9"/>
<rect x="868.4" y="223.3" width="2.4" height="17.6" fill="#e8261c"/>
<line x1="873.1" x2="873.1" y1="225.1" y2="236.9" stroke="#e8261c" stroke-width="0.9"/>
<rect x="871.9" y="226.6" width="2.4" height="8.8" fill="#e8261c"/>
<line x1="876.6" x2="876.6" y1="234.3" y2="245.7" stroke="#1a1a1a" stroke-width="0.9"/>
<rect x="875.4" y="236.5" width="2.4" height="6.6" fill="#1a1a1a"/>
<line x1="880.0" x2="880.0" y1="220.0" y2="240.0" stroke="#e8261c" stroke-width="0.9"/>
<rect x="878.8" y="223.3" width="2.4" height="15.4" fill="#e8261c"/>
<line x1="883.5" x2="883.5" y1="228.6" y2="251.4" stroke="#1a1a1a" stroke-width="0.9"/>
<rect x="882.3" y="229.9" width="2.4" height="16.5" fill="#1a1a1a"/>
<line x1="887.0" x2="887.0" y1="233.8" y2="246.6" stroke="#e8261c" stroke-width="0.9"/>
<rect x="885.8" y="235.4" width="2.4" height="9.9" fill="#e8261c"/>
<line x1="890.5" x2="890.5" y1="222.0" y2="236.9" stroke="#e8261c" stroke-width="0.9"/>
<rect x="889.2" y="223.3" width="2.4" height="12.1" fill="#e8261c"/>
<line x1="893.9" x2="893.9" y1="221.5" y2="230.3" stroke="#e8261c" stroke-width="0.9"/>
<rect x="892.7" y="222.0" width="2.4" height="1.8" fill="#e8261c"/>
<line x1="897.4" x2="897.4" y1="189.2" y2="218.9" stroke="#e8261c" stroke-width="0.9"/>
<rect x="896.2" y="190.3" width="2.4" height="27.5" fill="#e8261c"/>
<line x1="900.9" x2="900.9" y1="193.4" y2="205.3" stroke="#1a1a1a" stroke-width="0.9"/>
<rect x="899.7" y="194.7" width="2.4" height="8.8" fill="#1a1a1a"/>
<line x1="904.3" x2="904.3" y1="194.3" y2="212.7" stroke="#e8261c" stroke-width="0.9"/>
<rect x="903.1" y="195.8" width="2.4" height="14.3" fill="#e8261c"/>
<line x1="907.8" x2="907.8" y1="193.4" y2="200.4" stroke="#1a1a1a" stroke-width="0.9"/>
<rect x="906.6" y="194.7" width="2.4" height="4.4" fill="#1a1a1a"/>
<line x1="911.3" x2="911.3" y1="178.2" y2="195.6" stroke="#555" stroke-width="0.9"/>
<rect x="910.1" y="185.9" width="2.4" height="8.8" fill="#555"/>
<line x1="914.7" x2="914.7" y1="187.7" y2="207.0" stroke="#e8261c" stroke-width="0.9"/>
<rect x="913.5" y="189.2" width="2.4" height="15.4" fill="#e8261c"/>
<line x1="918.2" x2="918.2" y1="197.8" y2="213.6" stroke="#1a1a1a" stroke-width="0.9"/>
<rect x="917.0" y="199.1" width="2.4" height="12.1" fill="#1a1a1a"/>
<line x1="921.7" x2="921.7" y1="205.3" y2="218.0" stroke="#1a1a1a" stroke-width="0.9"/>
<rect x="920.5" y="206.8" width="2.4" height="7.7" fill="#1a1a1a"/>
<line x1="925.2" x2="925.2" y1="184.8" y2="235.6" stroke="#e8261c" stroke-width="0.9"/>
<rect x="924.0" y="190.3" width="2.4" height="35.2" fill="#e8261c"/>
<line x1="928.6" x2="928.6" y1="185.9" y2="207.0" stroke="#1a1a1a" stroke-width="0.9"/>
<rect x="927.4" y="193.6" width="2.4" height="12.1" fill="#1a1a1a"/>
<line x1="932.1" x2="932.1" y1="195.8" y2="212.3" stroke="#1a1a1a" stroke-width="0.9"/>
<rect x="930.9" y="199.1" width="2.4" height="6.6" fill="#1a1a1a"/>
<line x1="935.6" x2="935.6" y1="194.3" y2="204.0" stroke="#e8261c" stroke-width="0.9"/>
<rect x="934.4" y="195.8" width="2.4" height="6.6" fill="#e8261c"/>
<line x1="939.0" x2="939.0" y1="176.7" y2="191.6" stroke="#e8261c" stroke-width="0.9"/>
<rect x="937.8" y="178.2" width="2.4" height="12.1" fill="#e8261c"/>
<line x1="942.5" x2="942.5" y1="161.3" y2="184.2" stroke="#e8261c" stroke-width="0.9"/>
<rect x="941.3" y="162.9" width="2.4" height="19.8" fill="#e8261c"/>
<line x1="946.0" x2="946.0" y1="159.6" y2="171.9" stroke="#1a1a1a" stroke-width="0.9"/>
<rect x="944.8" y="164.8" width="2.4" height="2.6" fill="#1a1a1a"/>
<line x1="949.4" x2="949.4" y1="148.6" y2="171.9" stroke="#e8261c" stroke-width="0.9"/>
<rect x="948.2" y="159.6" width="2.4" height="7.7" fill="#e8261c"/>
<line x1="952.9" x2="952.9" y1="132.5" y2="159.1" stroke="#e8261c" stroke-width="0.9"/>
<rect x="951.7" y="136.9" width="2.4" height="17.8" fill="#e8261c"/>
</g>
<path d="M109.7,382.2 C114.4,383.1 112.4,383.9 123.8,385.0 C135.2,386.1 129.4,385.6 144.0,385.6 C158.6,385.6 151.8,385.5 167.5,385.0 C183.2,384.5 180.6,384.5 191.0,384.0 C201.4,383.5 192.1,383.1 198.8,383.4 C205.5,383.7 200.6,382.5 211.0,385.0 C221.4,387.5 218.5,387.0 230.0,390.8 C241.5,394.6 235.6,392.8 245.6,396.3 C255.6,399.8 252.1,398.7 260.0,401.3 C267.9,403.9 261.6,402.3 269.4,404.0 C277.2,405.7 273.5,405.3 283.4,406.4 C293.3,407.5 288.6,407.9 299.0,407.2 C309.4,406.5 304.3,407.1 314.7,404.4 C325.1,401.7 319.9,402.5 330.3,399.0 C340.7,395.5 335.6,396.6 346.0,393.9 C356.4,391.2 351.2,392.4 361.6,390.8 C372.0,389.2 364.2,390.0 377.2,389.2 C390.2,388.4 388.0,388.3 400.6,388.4 C413.2,388.5 402.4,388.3 415.0,389.5 C427.6,390.7 420.2,390.0 438.4,391.9 C456.6,393.8 451.5,393.2 469.7,395.3 C487.9,397.4 480.1,396.5 493.1,398.1 C506.1,399.7 501.0,399.2 508.8,400.0 C516.6,400.8 508.8,400.7 516.6,400.5 C524.4,400.3 519.2,400.5 532.2,399.4 C545.2,398.3 543.0,398.2 555.6,397.3 C568.2,396.4 560.0,397.5 570.0,396.6 C580.0,395.7 575.2,396.5 585.6,394.5 C596.0,392.5 590.9,393.2 601.3,390.6 C611.7,388.0 606.5,389.0 616.9,386.7 C627.3,384.4 622.1,385.5 632.5,383.6 C642.9,381.7 637.7,382.7 648.1,380.9 C658.5,379.1 653.4,380.3 663.8,378.1 C674.2,375.9 669.0,376.8 679.4,374.2 C689.8,371.6 684.6,373.2 695.0,370.3 C705.4,367.4 700.6,367.8 710.6,365.6 C720.6,363.4 714.1,365.5 725.0,363.6 C735.9,361.7 731.1,362.6 743.3,359.8 C755.5,357.0 749.4,358.3 761.6,355.2 C773.8,352.1 767.8,353.7 780.0,350.6 C792.2,347.5 789.1,348.7 798.3,346.0 C807.5,343.3 801.4,345.4 807.5,342.4 C813.6,339.4 809.9,341.5 816.6,336.9 C823.3,332.3 820.3,334.4 827.6,328.6 C834.9,322.8 831.3,326.2 838.6,319.5 C845.9,312.8 843.0,315.7 849.6,308.5 C856.2,301.3 849.2,308.1 858.3,298.0 C867.4,287.9 864.9,289.9 877.0,278.2 C889.1,266.5 882.9,274.6 894.6,262.9 C906.3,251.2 901.9,253.0 912.1,243.1 C922.3,233.2 916.5,240.5 925.3,233.2 C934.1,225.9 929.3,229.2 938.5,221.1 C947.7,213.0 948.0,213.0 952.8,209.0" fill="none" stroke="#d61c6a" stroke-width="1.25" stroke-linejoin="round"/>
<path d="M109.7,390.8 C113.3,390.3 111.7,390.8 120.6,389.2 C129.5,387.6 125.9,388.4 136.3,386.0 C146.7,383.6 142.5,384.1 151.9,381.9 C161.3,379.7 156.6,380.1 164.4,379.4 C172.2,378.7 165.9,379.3 175.3,379.8 C184.7,380.3 183.6,379.4 192.5,381.0 C201.4,382.6 195.6,381.2 201.9,384.5 C208.2,387.8 205.1,385.3 211.3,390.8 C217.5,396.3 214.4,394.5 220.6,401.0 C226.8,407.5 224.3,405.4 230.0,410.3 C235.7,415.2 232.6,412.4 237.8,415.8 C243.0,419.2 240.4,419.7 245.6,420.5 C250.8,421.3 247.9,419.9 253.4,418.1 C258.9,416.3 254.6,418.6 262.0,415.0 C269.4,411.4 265.8,412.7 275.6,407.2 C285.4,401.7 280.9,404.1 291.3,398.6 C301.7,393.1 296.5,395.5 306.9,390.8 C317.3,386.1 313.1,387.0 322.5,384.5 C331.9,382.0 326.7,383.1 335.0,383.4 C343.3,383.7 338.6,383.4 347.5,385.3 C356.4,387.2 353.3,386.9 361.6,389.2 C369.9,391.5 364.7,391.5 372.5,392.3 C380.3,393.1 375.6,392.4 385.0,391.6 C394.4,390.8 392.3,390.1 400.6,390.0 C408.9,389.9 403.5,390.7 410.0,391.4 C416.5,392.1 413.1,391.6 420.0,392.0 C426.9,392.4 421.8,391.2 430.6,392.7 C439.4,394.2 435.9,394.5 446.3,396.6 C456.7,398.7 451.5,397.3 461.9,398.9 C472.3,400.5 467.1,399.6 477.5,401.3 C487.9,403.0 482.7,402.9 493.1,404.1 C503.5,405.3 501.0,405.1 508.8,404.8 C516.6,404.5 511.4,404.7 516.6,403.1 C521.8,401.5 517.6,402.7 524.4,400.0 C531.2,397.3 530.1,398.2 536.9,395.0 C543.7,391.8 538.5,391.7 544.7,390.3 C550.9,388.9 547.2,390.7 555.6,390.8 C564.0,390.9 562.1,390.7 570.0,390.6 C577.9,390.5 572.6,390.3 579.4,390.6 C586.2,390.9 583.0,392.4 590.3,391.4 C597.6,390.4 594.5,390.1 601.3,387.5 C608.1,384.9 604.4,387.2 610.6,383.6 C616.8,380.0 613.7,380.8 620.0,376.6 C626.3,372.4 622.6,373.6 629.4,371.1 C636.2,368.6 634.1,369.5 640.3,369.2 C646.5,368.9 642.4,369.1 648.1,370.3 C653.8,371.5 651.2,372.2 657.5,372.7 C663.8,373.2 659.6,372.7 666.9,371.9 C674.2,371.1 672.1,371.6 679.4,370.3 C686.7,369.0 681.5,371.1 688.8,368.0 C696.1,364.9 693.0,365.1 701.3,360.9 C709.6,356.7 707.0,358.1 713.8,355.5 C720.6,352.9 716.2,354.0 721.6,353.1 C727.0,352.2 725.2,352.7 730.0,352.8 C734.8,352.9 729.7,353.2 736.0,353.4 C742.3,353.6 740.3,354.5 748.8,353.4 C757.3,352.3 753.7,352.7 761.6,350.2 C769.5,347.7 764.6,349.2 772.6,346.0 C780.6,342.8 778.2,342.9 785.5,340.5 C792.8,338.1 788.5,341.7 794.6,338.7 C800.7,335.7 798.3,336.6 803.8,331.4 C809.3,326.2 806.8,328.6 811.1,323.1 C815.4,317.6 812.9,321.0 816.6,314.9 C820.3,308.8 818.4,311.2 822.1,304.8 C825.8,298.4 823.9,301.4 827.6,295.6 C831.3,289.8 829.4,292.9 833.1,287.4 C836.8,281.9 834.3,284.6 838.6,279.1 C842.9,273.6 841.0,276.4 845.9,270.9 C850.8,265.4 848.4,268.1 853.3,262.6 C858.2,257.1 856.4,258.0 860.6,254.4 C864.8,250.8 860.5,255.7 866.0,251.9 C871.5,248.1 869.7,247.9 877.0,243.1 C884.3,238.3 880.7,243.8 888.0,237.6 C895.3,231.4 891.7,232.8 899.0,224.4 C906.3,216.0 903.4,218.9 910.0,212.3 C916.6,205.7 912.9,208.6 918.7,204.6 C924.5,200.6 920.9,203.1 927.5,200.2 C934.1,197.3 931.9,199.5 938.5,195.8 C945.1,192.1 942.5,193.2 947.3,189.2 C952.1,185.2 951.0,185.5 952.8,183.7" fill="none" stroke="#2c9ab8" stroke-width="1.25" stroke-linejoin="round"/>
<rect x="193" y="93" width="156" height="61" fill="#fff"/>
<line x1="110.5" x2="194" y1="107.5" y2="107.5" stroke="#8fb3cc" stroke-width="1.3"/>
<line x1="110.5" x2="194" y1="137.8" y2="137.8" stroke="#e0b4c4" stroke-width="1.3"/>
<text x="194.3" y="116.8" font-size="26.1" font-weight="bold" fill="#168dbd">MA10(51.02)</text>
<text x="194.3" y="147" font-size="26.1" font-weight="bold" fill="#d81564">MA30(48.02)</text>
<rect x="888" y="74" width="67" height="56" fill="#fff"/>
<text x="952.4" y="95.6" font-size="25.7" font-weight="bold" text-anchor="end" fill="#000">05/24</text>
<text x="952.4" y="126.2" font-size="25.7" font-weight="bold" text-anchor="end" fill="#000">56.6</text>
<text x="185" y="453.6" font-size="25" font-weight="bold" fill="#000">07/07</text>
<rect x="192" y="462" width="51" height="24" fill="#fff"/>
<line x1="106" x2="192" y1="473.5" y2="473.5" stroke="#4a4a4a" stroke-width="1.5"/>
<line x1="243" x2="957" y1="473.5" y2="473.5" stroke="#4a4a4a" stroke-width="1.5"/>
<text x="193" y="484.2" font-size="25" font-weight="bold" fill="#000">23.1</text>
<rect x="108" y="477.5" width="125.5" height="34" fill="#fff"/>
<text x="109.5" y="505" font-size="26.8" fill="#d6246e"><tspan font-weight="400">成交量</tspan><tspan font-weight="normal" dy="-1">(</tspan><tspan font-weight="400" dy="1">張</tspan><tspan font-weight="normal" dy="-1">)</tspan></text>
<rect x="108.9" y="601.5" width="1.55" height="2.7" fill="#ec5596" stroke="#cc0e66" stroke-width="0.75"/>
<rect x="112.4" y="601.5" width="1.55" height="2.7" fill="#ec5596" stroke="#cc0e66" stroke-width="0.75"/>
<rect x="115.9" y="601.5" width="1.55" height="2.7" fill="#ec5596" stroke="#cc0e66" stroke-width="0.75"/>
<rect x="119.3" y="601.5" width="1.55" height="2.7" fill="#ec5596" stroke="#cc0e66" stroke-width="0.75"/>
<rect x="122.8" y="601.5" width="1.55" height="2.7" fill="#ec5596" stroke="#cc0e66" stroke-width="0.75"/>
<rect x="126.3" y="599.3" width="1.55" height="4.9" fill="#ec5596" stroke="#cc0e66" stroke-width="0.75"/>
<rect x="129.7" y="602.0" width="1.55" height="2.2" fill="#ec5596" stroke="#cc0e66" stroke-width="0.75"/>
<rect x="133.2" y="602.0" width="1.55" height="2.2" fill="#ec5596" stroke="#cc0e66" stroke-width="0.75"/>
<rect x="136.7" y="602.0" width="1.55" height="2.2" fill="#ec5596" stroke="#cc0e66" stroke-width="0.75"/>
<rect x="140.2" y="602.0" width="1.55" height="2.2" fill="#ec5596" stroke="#cc0e66" stroke-width="0.75"/>
<rect x="143.6" y="603.1" width="1.55" height="1.1" fill="#ec5596" stroke="#cc0e66" stroke-width="0.75"/>
<rect x="147.1" y="603.1" width="1.55" height="1.1" fill="#ec5596" stroke="#cc0e66" stroke-width="0.75"/>
<rect x="150.6" y="603.1" width="1.55" height="1.1" fill="#ec5596" stroke="#cc0e66" stroke-width="0.75"/>
<rect x="154.0" y="600.9" width="1.55" height="3.3" fill="#ec5596" stroke="#cc0e66" stroke-width="0.75"/>
<rect x="157.5" y="600.9" width="1.55" height="3.3" fill="#ec5596" stroke="#cc0e66" stroke-width="0.75"/>
<rect x="161.0" y="600.1" width="1.55" height="4.1" fill="#ec5596" stroke="#cc0e66" stroke-width="0.75"/>
<rect x="164.4" y="598.2" width="1.55" height="6.0" fill="#ec5596" stroke="#cc0e66" stroke-width="0.75"/>
<rect x="167.9" y="593.8" width="1.55" height="10.4" fill="#ec5596" stroke="#cc0e66" stroke-width="0.75"/>
<rect x="171.4" y="595.4" width="1.55" height="8.8" fill="#ec5596" stroke="#cc0e66" stroke-width="0.75"/>
<rect x="174.8" y="597.4" width="1.55" height="6.8" fill="#ec5596" stroke="#cc0e66" stroke-width="0.75"/>
<rect x="178.3" y="600.9" width="1.55" height="3.3" fill="#ec5596" stroke="#cc0e66" stroke-width="0.75"/>
<rect x="181.8" y="599.8" width="1.55" height="4.4" fill="#ec5596" stroke="#cc0e66" stroke-width="0.75"/>
<rect x="185.3" y="601.5" width="1.55" height="2.7" fill="#ec5596" stroke="#cc0e66" stroke-width="0.75"/>
<rect x="188.7" y="602.0" width="1.55" height="2.2" fill="#ec5596" stroke="#cc0e66" stroke-width="0.75"/>
<rect x="192.2" y="600.4" width="1.55" height="3.8" fill="#ec5596" stroke="#cc0e66" stroke-width="0.75"/>
<rect x="195.7" y="596.0" width="1.55" height="8.2" fill="#ec5596" stroke="#cc0e66" stroke-width="0.75"/>
<rect x="199.1" y="591.1" width="1.55" height="13.1" fill="#ec5596" stroke="#cc0e66" stroke-width="0.75"/>
<rect x="202.6" y="593.8" width="1.55" height="10.4" fill="#ec5596" stroke="#cc0e66" stroke-width="0.75"/>
<rect x="206.1" y="596.5" width="1.55" height="7.7" fill="#ec5596" stroke="#cc0e66" stroke-width="0.75"/>
<rect x="209.6" y="591.6" width="1.55" height="12.6" fill="#ec5596" stroke="#cc0e66" stroke-width="0.75"/>
<rect x="213.0" y="574.7" width="1.55" height="29.5" fill="#ec5596" stroke="#cc0e66" stroke-width="0.75"/>
<rect x="216.5" y="598.7" width="1.55" height="5.5" fill="#ec5596" stroke="#cc0e66" stroke-width="0.75"/>
<rect x="220.0" y="597.4" width="1.55" height="6.8" fill="#ec5596" stroke="#cc0e66" stroke-width="0.75"/>
<rect x="223.4" y="596.8" width="1.55" height="7.4" fill="#ec5596" stroke="#cc0e66" stroke-width="0.75"/>
<rect x="226.9" y="597.6" width="1.55" height="6.6" fill="#ec5596" stroke="#cc0e66" stroke-width="0.75"/>
<rect x="230.4" y="600.9" width="1.55" height="3.3" fill="#ec5596" stroke="#cc0e66" stroke-width="0.75"/>
<rect x="233.8" y="602.6" width="1.55" height="1.6" fill="#ec5596" stroke="#cc0e66" stroke-width="0.75"/>
<rect x="237.3" y="598.7" width="1.55" height="5.5" fill="#ec5596" stroke="#cc0e66" stroke-width="0.75"/>
<rect x="240.8" y="602.6" width="1.55" height="1.6" fill="#ec5596" stroke="#cc0e66" stroke-width="0.75"/>
<rect x="244.3" y="600.1" width="1.55" height="4.1" fill="#ec5596" stroke="#cc0e66" stroke-width="0.75"/>
<rect x="247.7" y="600.9" width="1.55" height="3.3" fill="#ec5596" stroke="#cc0e66" stroke-width="0.75"/>
<rect x="265.1" y="602.0" width="1.55" height="2.2" fill="#ec5596" stroke="#cc0e66" stroke-width="0.75"/>
<rect x="268.5" y="602.0" width="1.55" height="2.2" fill="#ec5596" stroke="#cc0e66" stroke-width="0.75"/>
<rect x="272.0" y="601.5" width="1.55" height="2.7" fill="#ec5596" stroke="#cc0e66" stroke-width="0.75"/>
<rect x="275.5" y="602.6" width="1.55" height="1.6" fill="#ec5596" stroke="#cc0e66" stroke-width="0.75"/>
<rect x="279.0" y="599.8" width="1.55" height="4.4" fill="#ec5596" stroke="#cc0e66" stroke-width="0.75"/>
<rect x="282.4" y="599.8" width="1.55" height="4.4" fill="#ec5596" stroke="#cc0e66" stroke-width="0.75"/>
<rect x="285.9" y="602.8" width="1.55" height="1.4" fill="#ec5596" stroke="#cc0e66" stroke-width="0.75"/>
<rect x="289.4" y="596.8" width="1.55" height="7.4" fill="#ec5596" stroke="#cc0e66" stroke-width="0.75"/>
<rect x="292.8" y="597.6" width="1.55" height="6.6" fill="#ec5596" stroke="#cc0e66" stroke-width="0.75"/>
<rect x="296.3" y="596.5" width="1.55" height="7.7" fill="#ec5596" stroke="#cc0e66" stroke-width="0.75"/>
<rect x="299.8" y="599.8" width="1.55" height="4.4" fill="#ec5596" stroke="#cc0e66" stroke-width="0.75"/>
<rect x="303.2" y="596.0" width="1.55" height="8.2" fill="#ec5596" stroke="#cc0e66" stroke-width="0.75"/>
<rect x="306.7" y="600.4" width="1.55" height="3.8" fill="#ec5596" stroke="#cc0e66" stroke-width="0.75"/>
<rect x="310.2" y="597.6" width="1.55" height="6.6" fill="#ec5596" stroke="#cc0e66" stroke-width="0.75"/>
<rect x="313.7" y="599.3" width="1.55" height="4.9" fill="#ec5596" stroke="#cc0e66" stroke-width="0.75"/>
<rect x="317.1" y="601.5" width="1.55" height="2.7" fill="#ec5596" stroke="#cc0e66" stroke-width="0.75"/>
<rect x="320.6" y="602.8" width="1.55" height="1.4" fill="#ec5596" stroke="#cc0e66" stroke-width="0.75"/>
<rect x="324.1" y="602.8" width="1.55" height="1.4" fill="#ec5596" stroke="#cc0e66" stroke-width="0.75"/>
<rect x="327.5" y="601.5" width="1.55" height="2.7" fill="#ec5596" stroke="#cc0e66" stroke-width="0.75"/>
<rect x="331.0" y="601.5" width="1.55" height="2.7" fill="#ec5596" stroke="#cc0e66" stroke-width="0.75"/>
<rect x="334.5" y="602.0" width="1.55" height="2.2" fill="#ec5596" stroke="#cc0e66" stroke-width="0.75"/>
<rect x="337.9" y="603.4" width="1.55" height="0.8" fill="#ec5596" stroke="#cc0e66" stroke-width="0.75"/>
<rect x="341.4" y="602.0" width="1.55" height="2.2" fill="#ec5596" stroke="#cc0e66" stroke-width="0.75"/>
<rect x="344.9" y="598.7" width="1.55" height="5.5" fill="#ec5596" stroke="#cc0e66" stroke-width="0.75"/>
<rect x="348.4" y="598.7" width="1.55" height="5.5" fill="#ec5596" stroke="#cc0e66" stroke-width="0.75"/>
<rect x="351.8" y="602.0" width="1.55" height="2.2" fill="#ec5596" stroke="#cc0e66" stroke-width="0.75"/>
<rect x="355.3" y="602.6" width="1.55" height="1.6" fill="#ec5596" stroke="#cc0e66" stroke-width="0.75"/>
<rect x="358.8" y="600.9" width="1.55" height="3.3" fill="#ec5596" stroke="#cc0e66" stroke-width="0.75"/>
<rect x="362.2" y="602.0" width="1.55" height="2.2" fill="#ec5596" stroke="#cc0e66" stroke-width="0.75"/>
<rect x="365.7" y="599.8" width="1.55" height="4.4" fill="#ec5596" stroke="#cc0e66" stroke-width="0.75"/>
<rect x="369.2" y="600.4" width="1.55" height="3.8" fill="#ec5596" stroke="#cc0e66" stroke-width="0.75"/>
<rect x="372.6" y="602.0" width="1.55" height="2.2" fill="#ec5596" stroke="#cc0e66" stroke-width="0.75"/>
<rect x="376.1" y="598.2" width="1.55" height="6.0" fill="#ec5596" stroke="#cc0e66" stroke-width="0.75"/>
<rect x="379.6" y="600.4" width="1.55" height="3.8" fill="#ec5596" stroke="#cc0e66" stroke-width="0.75"/>
<rect x="383.1" y="599.8" width="1.55" height="4.4" fill="#ec5596" stroke="#cc0e66" stroke-width="0.75"/>
<rect x="386.5" y="598.7" width="1.55" height="5.5" fill="#ec5596" stroke="#cc0e66" stroke-width="0.75"/>
<rect x="390.0" y="589.2" width="1.55" height="15.0" fill="#ec5596" stroke="#cc0e66" stroke-width="0.75"/>
<rect x="393.5" y="595.4" width="1.55" height="8.8" fill="#ec5596" stroke="#cc0e66" stroke-width="0.75"/>
<rect x="396.9" y="591.1" width="1.55" height="13.1" fill="#ec5596" stroke="#cc0e66" stroke-width="0.75"/>
<rect x="400.4" y="593.8" width="1.55" height="10.4" fill="#ec5596" stroke="#cc0e66" stroke-width="0.75"/>
<rect x="403.9" y="595.4" width="1.55" height="8.8" fill="#ec5596" stroke="#cc0e66" stroke-width="0.75"/>
<rect x="410.8" y="600.4" width="1.55" height="3.8" fill="#ec5596" stroke="#cc0e66" stroke-width="0.75"/>
<rect x="414.3" y="603.1" width="1.55" height="1.1" fill="#ec5596" stroke="#cc0e66" stroke-width="0.75"/>
<rect x="417.8" y="600.4" width="1.55" height="3.8" fill="#ec5596" stroke="#cc0e66" stroke-width="0.75"/>
<rect x="421.2" y="595.4" width="1.55" height="8.8" fill="#ec5596" stroke="#cc0e66" stroke-width="0.75"/>
<rect x="424.7" y="598.7" width="1.55" height="5.5" fill="#ec5596" stroke="#cc0e66" stroke-width="0.75"/>
<rect x="428.2" y="601.5" width="1.55" height="2.7" fill="#ec5596" stroke="#cc0e66" stroke-width="0.75"/>
<rect x="431.6" y="598.2" width="1.55" height="6.0" fill="#ec5596" stroke="#cc0e66" stroke-width="0.75"/>
<rect x="435.1" y="600.4" width="1.55" height="3.8" fill="#ec5596" stroke="#cc0e66" stroke-width="0.75"/>
<rect x="445.5" y="597.4" width="1.55" height="6.8" fill="#ec5596" stroke="#cc0e66" stroke-width="0.75"/>
<rect x="449.0" y="600.4" width="1.55" height="3.8" fill="#ec5596" stroke="#cc0e66" stroke-width="0.75"/>
<rect x="452.5" y="602.6" width="1.55" height="1.6" fill="#ec5596" stroke="#cc0e66" stroke-width="0.75"/>
<rect x="455.9" y="602.8" width="1.55" height="1.4" fill="#ec5596" stroke="#cc0e66" stroke-width="0.75"/>
<rect x="459.4" y="599.8" width="1.55" height="4.4" fill="#ec5596" stroke="#cc0e66" stroke-width="0.75"/>
<rect x="462.9" y="599.8" width="1.55" height="4.4" fill="#ec5596" stroke="#cc0e66" stroke-width="0.75"/>
<rect x="466.3" y="600.4" width="1.55" height="3.8" fill="#ec5596" stroke="#cc0e66" stroke-width="0.75"/>
<rect x="469.8" y="586.4" width="1.55" height="17.8" fill="#ec5596" stroke="#cc0e66" stroke-width="0.75"/>
<rect x="480.2" y="602.6" width="1.55" height="1.6" fill="#ec5596" stroke="#cc0e66" stroke-width="0.75"/>
<rect x="487.2" y="601.5" width="1.55" height="2.7" fill="#ec5596" stroke="#cc0e66" stroke-width="0.75"/>
<rect x="490.6" y="600.9" width="1.55" height="3.3" fill="#ec5596" stroke="#cc0e66" stroke-width="0.75"/>
<rect x="494.1" y="600.9" width="1.55" height="3.3" fill="#ec5596" stroke="#cc0e66" stroke-width="0.75"/>
<rect x="497.6" y="602.0" width="1.55" height="2.2" fill="#ec5596" stroke="#cc0e66" stroke-width="0.75"/>
<rect x="501.0" y="600.4" width="1.55" height="3.8" fill="#ec5596" stroke="#cc0e66" stroke-width="0.75"/>
<rect x="504.5" y="600.9" width="1.55" height="3.3" fill="#ec5596" stroke="#cc0e66" stroke-width="0.75"/>
<rect x="508.0" y="591.1" width="1.55" height="13.1" fill="#ec5596" stroke="#cc0e66" stroke-width="0.75"/>
<rect x="511.4" y="588.3" width="1.55" height="15.9" fill="#ec5596" stroke="#cc0e66" stroke-width="0.75"/>
<rect x="514.9" y="593.8" width="1.55" height="10.4" fill="#ec5596" stroke="#cc0e66" stroke-width="0.75"/>
<rect x="518.4" y="597.1" width="1.55" height="7.1" fill="#ec5596" stroke="#cc0e66" stroke-width="0.75"/>
<rect x="521.9" y="603.1" width="1.55" height="1.1" fill="#ec5596" stroke="#cc0e66" stroke-width="0.75"/>
<rect x="525.3" y="593.8" width="1.55" height="10.4" fill="#ec5596" stroke="#cc0e66" stroke-width="0.75"/>
<rect x="528.8" y="596.5" width="1.55" height="7.7" fill="#ec5596" stroke="#cc0e66" stroke-width="0.75"/>
<rect x="532.3" y="597.4" width="1.55" height="6.8" fill="#ec5596" stroke="#cc0e66" stroke-width="0.75"/>
<rect x="535.7" y="597.4" width="1.55" height="6.8" fill="#ec5596" stroke="#cc0e66" stroke-width="0.75"/>
<rect x="539.2" y="597.6" width="1.55" height="6.6" fill="#ec5596" stroke="#cc0e66" stroke-width="0.75"/>
<rect x="542.7" y="602.6" width="1.55" height="1.6" fill="#ec5596" stroke="#cc0e66" stroke-width="0.75"/>
<rect x="546.1" y="603.1" width="1.55" height="1.1" fill="#ec5596" stroke="#cc0e66" stroke-width="0.75"/>
<rect x="553.1" y="602.8" width="1.55" height="1.4" fill="#ec5596" stroke="#cc0e66" stroke-width="0.75"/>
<rect x="556.6" y="602.8" width="1.55" height="1.4" fill="#ec5596" stroke="#cc0e66" stroke-width="0.75"/>
<rect x="567.0" y="600.4" width="1.55" height="3.8" fill="#ec5596" stroke="#cc0e66" stroke-width="0.75"/>
<rect x="570.4" y="600.4" width="1.55" height="3.8" fill="#ec5596" stroke="#cc0e66" stroke-width="0.75"/>
<rect x="573.9" y="598.7" width="1.55" height="5.5" fill="#ec5596" stroke="#cc0e66" stroke-width="0.75"/>
<rect x="577.4" y="600.9" width="1.55" height="3.3" fill="#ec5596" stroke="#cc0e66" stroke-width="0.75"/>
<rect x="580.8" y="596.5" width="1.55" height="7.7" fill="#ec5596" stroke="#cc0e66" stroke-width="0.75"/>
<rect x="584.3" y="599.8" width="1.55" height="4.4" fill="#ec5596" stroke="#cc0e66" stroke-width="0.75"/>
<rect x="587.8" y="600.4" width="1.55" height="3.8" fill="#ec5596" stroke="#cc0e66" stroke-width="0.75"/>
<rect x="591.3" y="597.1" width="1.55" height="7.1" fill="#ec5596" stroke="#cc0e66" stroke-width="0.75"/>
<rect x="594.7" y="592.2" width="1.55" height="12.0" fill="#ec5596" stroke="#cc0e66" stroke-width="0.75"/>
<rect x="598.2" y="599.8" width="1.55" height="4.4" fill="#ec5596" stroke="#cc0e66" stroke-width="0.75"/>
<rect x="601.7" y="590.0" width="1.55" height="14.2" fill="#ec5596" stroke="#cc0e66" stroke-width="0.75"/>
<rect x="605.1" y="593.3" width="1.55" height="10.9" fill="#ec5596" stroke="#cc0e66" stroke-width="0.75"/>
<rect x="608.6" y="597.1" width="1.55" height="7.1" fill="#ec5596" stroke="#cc0e66" stroke-width="0.75"/>
<rect x="612.1" y="570.0" width="1.55" height="34.2" fill="#ec5596" stroke="#cc0e66" stroke-width="0.75"/>
<rect x="615.5" y="570.8" width="1.55" height="33.4" fill="#ec5596" stroke="#cc0e66" stroke-width="0.75"/>
<rect x="619.0" y="577.4" width="1.55" height="26.8" fill="#ec5596" stroke="#cc0e66" stroke-width="0.75"/>
<rect x="622.5" y="586.4" width="1.55" height="17.8" fill="#ec5596" stroke="#cc0e66" stroke-width="0.75"/>
<rect x="626.0" y="588.3" width="1.55" height="15.9" fill="#ec5596" stroke="#cc0e66" stroke-width="0.75"/>
<rect x="629.4" y="597.1" width="1.55" height="7.1" fill="#ec5596" stroke="#cc0e66" stroke-width="0.75"/>
<rect x="632.9" y="602.6" width="1.55" height="1.6" fill="#ec5596" stroke="#cc0e66" stroke-width="0.75"/>
<rect x="639.8" y="600.9" width="1.55" height="3.3" fill="#ec5596" stroke="#cc0e66" stroke-width="0.75"/>
<rect x="643.3" y="600.9" width="1.55" height="3.3" fill="#ec5596" stroke="#cc0e66" stroke-width="0.75"/>
<rect x="646.8" y="602.6" width="1.55" height="1.6" fill="#ec5596" stroke="#cc0e66" stroke-width="0.75"/>
<rect x="650.2" y="600.9" width="1.55" height="3.3" fill="#ec5596" stroke="#cc0e66" stroke-width="0.75"/>
<rect x="653.7" y="601.5" width="1.55" height="2.7" fill="#ec5596" stroke="#cc0e66" stroke-width="0.75"/>
<rect x="657.2" y="601.6" width="1.55" height="2.6" fill="#ec5596" stroke="#cc0e66" stroke-width="0.75"/>
<rect x="660.7" y="602.8" width="1.55" height="1.4" fill="#ec5596" stroke="#cc0e66" stroke-width="0.75"/>
<rect x="664.1" y="597.0" width="1.55" height="7.2" fill="#ec5596" stroke="#cc0e66" stroke-width="0.75"/>
<rect x="667.6" y="597.0" width="1.55" height="7.2" fill="#ec5596" stroke="#cc0e66" stroke-width="0.75"/>
<rect x="671.1" y="597.7" width="1.55" height="6.5" fill="#ec5596" stroke="#cc0e66" stroke-width="0.75"/>
<rect x="674.5" y="601.8" width="1.55" height="2.4" fill="#ec5596" stroke="#cc0e66" stroke-width="0.75"/>
<rect x="678.0" y="602.5" width="1.55" height="1.7" fill="#ec5596" stroke="#cc0e66" stroke-width="0.75"/>
<rect x="681.5" y="602.8" width="1.55" height="1.4" fill="#ec5596" stroke="#cc0e66" stroke-width="0.75"/>
<rect x="684.9" y="601.8" width="1.55" height="2.4" fill="#ec5596" stroke="#cc0e66" stroke-width="0.75"/>
<rect x="688.4" y="582.0" width="1.55" height="22.2" fill="#ec5596" stroke="#cc0e66" stroke-width="0.75"/>
<rect x="691.9" y="583.7" width="1.55" height="20.5" fill="#ec5596" stroke="#cc0e66" stroke-width="0.75"/>
<rect x="695.4" y="599.9" width="1.55" height="4.3" fill="#ec5596" stroke="#cc0e66" stroke-width="0.75"/>
<rect x="698.8" y="594.3" width="1.55" height="9.9" fill="#ec5596" stroke="#cc0e66" stroke-width="0.75"/>
<rect x="702.3" y="598.7" width="1.55" height="5.5" fill="#ec5596" stroke="#cc0e66" stroke-width="0.75"/>
<rect x="705.8" y="601.1" width="1.55" height="3.1" fill="#ec5596" stroke="#cc0e66" stroke-width="0.75"/>
<rect x="709.2" y="601.8" width="1.55" height="2.4" fill="#ec5596" stroke="#cc0e66" stroke-width="0.75"/>
<rect x="712.7" y="602.1" width="1.55" height="2.1" fill="#ec5596" stroke="#cc0e66" stroke-width="0.75"/>
<rect x="716.2" y="597.7" width="1.55" height="6.5" fill="#ec5596" stroke="#cc0e66" stroke-width="0.75"/>
<rect x="719.6" y="599.9" width="1.55" height="4.3" fill="#ec5596" stroke="#cc0e66" stroke-width="0.75"/>
<rect x="723.1" y="597.0" width="1.55" height="7.2" fill="#ec5596" stroke="#cc0e66" stroke-width="0.75"/>
<rect x="726.6" y="599.4" width="1.55" height="4.8" fill="#ec5596" stroke="#cc0e66" stroke-width="0.75"/>
<rect x="730.1" y="601.1" width="1.55" height="3.1" fill="#ec5596" stroke="#cc0e66" stroke-width="0.75"/>
<rect x="733.5" y="601.1" width="1.55" height="3.1" fill="#ec5596" stroke="#cc0e66" stroke-width="0.75"/>
<rect x="737.0" y="599.9" width="1.55" height="4.3" fill="#ec5596" stroke="#cc0e66" stroke-width="0.75"/>
<rect x="747.4" y="602.5" width="1.55" height="1.7" fill="#ec5596" stroke="#cc0e66" stroke-width="0.75"/>
<rect x="750.9" y="592.6" width="1.55" height="11.6" fill="#ec5596" stroke="#cc0e66" stroke-width="0.75"/>
<rect x="754.3" y="579.8" width="1.55" height="24.4" fill="#ec5596" stroke="#cc0e66" stroke-width="0.75"/>
<rect x="757.8" y="590.9" width="1.55" height="13.3" fill="#ec5596" stroke="#cc0e66" stroke-width="0.75"/>
<rect x="761.3" y="601.1" width="1.55" height="3.1" fill="#ec5596" stroke="#cc0e66" stroke-width="0.75"/>
<rect x="764.8" y="603.2" width="1.55" height="1.0" fill="#ec5596" stroke="#cc0e66" stroke-width="0.75"/>
<rect x="768.2" y="602.8" width="1.55" height="1.4" fill="#ec5596" stroke="#cc0e66" stroke-width="0.75"/>
<rect x="771.7" y="598.0" width="1.55" height="6.2" fill="#ec5596" stroke="#cc0e66" stroke-width="0.75"/>
<rect x="775.2" y="587.4" width="1.55" height="16.8" fill="#ec5596" stroke="#cc0e66" stroke-width="0.75"/>
<rect x="778.6" y="591.9" width="1.55" height="12.3" fill="#ec5596" stroke="#cc0e66" stroke-width="0.75"/>
<rect x="782.1" y="597.7" width="1.55" height="6.5" fill="#ec5596" stroke="#cc0e66" stroke-width="0.75"/>
<rect x="785.6" y="595.7" width="1.55" height="8.5" fill="#ec5596" stroke="#cc0e66" stroke-width="0.75"/>
<rect x="789.0" y="597.4" width="1.55" height="6.8" fill="#ec5596" stroke="#cc0e66" stroke-width="0.75"/>
<rect x="792.5" y="581.6" width="1.55" height="22.6" fill="#ec5596" stroke="#cc0e66" stroke-width="0.75"/>
<rect x="796.0" y="594.3" width="1.55" height="9.9" fill="#ec5596" stroke="#cc0e66" stroke-width="0.75"/>
<rect x="799.5" y="587.1" width="1.55" height="17.1" fill="#ec5596" stroke="#cc0e66" stroke-width="0.75"/>
<rect x="802.9" y="585.1" width="1.55" height="19.1" fill="#ec5596" stroke="#cc0e66" stroke-width="0.75"/>
<rect x="806.4" y="555.5" width="1.55" height="48.7" fill="#ec5596" stroke="#cc0e66" stroke-width="0.75"/>
<rect x="809.9" y="568.3" width="1.55" height="35.9" fill="#ec5596" stroke="#cc0e66" stroke-width="0.75"/>
<rect x="813.3" y="545.2" width="1.55" height="59.0" fill="#ec5596" stroke="#cc0e66" stroke-width="0.75"/>
<rect x="816.8" y="552.9" width="1.55" height="51.3" fill="#ec5596" stroke="#cc0e66" stroke-width="0.75"/>
<rect x="820.3" y="553.8" width="1.55" height="50.4" fill="#ec5596" stroke="#cc0e66" stroke-width="0.75"/>
<rect x="823.7" y="563.2" width="1.55" height="41.0" fill="#ec5596" stroke="#cc0e66" stroke-width="0.75"/>
<rect x="827.2" y="567.8" width="1.55" height="36.4" fill="#ec5596" stroke="#cc0e66" stroke-width="0.75"/>
<rect x="830.7" y="528.5" width="1.55" height="75.7" fill="#ec5596" stroke="#cc0e66" stroke-width="0.75"/>
<rect x="834.2" y="561.0" width="1.55" height="43.2" fill="#ec5596" stroke="#cc0e66" stroke-width="0.75"/>
<rect x="837.6" y="572.2" width="1.55" height="32.0" fill="#ec5596" stroke="#cc0e66" stroke-width="0.75"/>
<rect x="841.1" y="582.0" width="1.55" height="22.2" fill="#ec5596" stroke="#cc0e66" stroke-width="0.75"/>
<rect x="844.6" y="542.1" width="1.55" height="62.1" fill="#ec5596" stroke="#cc0e66" stroke-width="0.75"/>
<rect x="848.0" y="575.7" width="1.55" height="28.5" fill="#ec5596" stroke="#cc0e66" stroke-width="0.75"/>
<rect x="851.5" y="550.4" width="1.55" height="53.8" fill="#ec5596" stroke="#cc0e66" stroke-width="0.75"/>
<rect x="855.0" y="563.2" width="1.55" height="41.0" fill="#ec5596" stroke="#cc0e66" stroke-width="0.75"/>
<rect x="858.4" y="557.5" width="1.55" height="46.7" fill="#ec5596" stroke="#cc0e66" stroke-width="0.75"/>
<rect x="861.9" y="580.3" width="1.55" height="23.9" fill="#ec5596" stroke="#cc0e66" stroke-width="0.75"/>
<rect x="865.4" y="573.4" width="1.55" height="30.8" fill="#ec5596" stroke="#cc0e66" stroke-width="0.75"/>
<rect x="868.9" y="531.2" width="1.55" height="73.0" fill="#ec5596" stroke="#cc0e66" stroke-width="0.75"/>
<rect x="872.3" y="561.5" width="1.55" height="42.7" fill="#ec5596" stroke="#cc0e66" stroke-width="0.75"/>
<rect x="875.8" y="541.8" width="1.55" height="62.4" fill="#ec5596" stroke="#cc0e66" stroke-width="0.75"/>
<rect x="879.3" y="558.9" width="1.55" height="45.3" fill="#ec5596" stroke="#cc0e66" stroke-width="0.75"/>
<rect x="882.7" y="538.7" width="1.55" height="65.5" fill="#ec5596" stroke="#cc0e66" stroke-width="0.75"/>
<rect x="886.2" y="562.7" width="1.55" height="41.5" fill="#ec5596" stroke="#cc0e66" stroke-width="0.75"/>
<rect x="889.7" y="563.7" width="1.55" height="40.5" fill="#ec5596" stroke="#cc0e66" stroke-width="0.75"/>
<rect x="893.1" y="573.8" width="1.55" height="30.4" fill="#ec5596" stroke="#cc0e66" stroke-width="0.75"/>
<rect x="896.6" y="531.9" width="1.55" height="72.3" fill="#ec5596" stroke="#cc0e66" stroke-width="0.75"/>
<rect x="900.1" y="568.8" width="1.55" height="35.4" fill="#ec5596" stroke="#cc0e66" stroke-width="0.75"/>
<rect x="903.6" y="568.8" width="1.55" height="35.4" fill="#ec5596" stroke="#cc0e66" stroke-width="0.75"/>
<rect x="907.0" y="577.4" width="1.55" height="26.8" fill="#ec5596" stroke="#cc0e66" stroke-width="0.75"/>
<rect x="910.5" y="565.7" width="1.55" height="38.5" fill="#ec5596" stroke="#cc0e66" stroke-width="0.75"/>
<rect x="914.0" y="565.7" width="1.55" height="38.5" fill="#ec5596" stroke="#cc0e66" stroke-width="0.75"/>
<rect x="917.4" y="560.3" width="1.55" height="43.9" fill="#ec5596" stroke="#cc0e66" stroke-width="0.75"/>
<rect x="920.9" y="570.9" width="1.55" height="33.3" fill="#ec5596" stroke="#cc0e66" stroke-width="0.75"/>
<rect x="924.4" y="473.8" width="1.55" height="130.4" fill="#ec5596" stroke="#cc0e66" stroke-width="0.75"/>
<rect x="927.8" y="542.1" width="1.55" height="62.1" fill="#ec5596" stroke="#cc0e66" stroke-width="0.75"/>
<rect x="931.3" y="546.9" width="1.55" height="57.3" fill="#ec5596" stroke="#cc0e66" stroke-width="0.75"/>
<rect x="934.8" y="555.5" width="1.55" height="48.7" fill="#ec5596" stroke="#cc0e66" stroke-width="0.75"/>
<rect x="938.3" y="538.0" width="1.55" height="66.2" fill="#ec5596" stroke="#cc0e66" stroke-width="0.75"/>
<rect x="941.7" y="518.2" width="1.55" height="86.0" fill="#ec5596" stroke="#cc0e66" stroke-width="0.75"/>
<rect x="945.2" y="558.9" width="1.55" height="45.3" fill="#ec5596" stroke="#cc0e66" stroke-width="0.75"/>
<rect x="948.7" y="552.9" width="1.55" height="51.3" fill="#ec5596" stroke="#cc0e66" stroke-width="0.75"/>
<rect x="952.1" y="532.9" width="1.55" height="71.3" fill="#ec5596" stroke="#cc0e66" stroke-width="0.75"/>
<line x1="106" x2="957" y1="604.2" y2="604.2" stroke="#c03070" stroke-width="1"/>
<line x1="110.5" x2="194" y1="689.4" y2="689.4" stroke="#e0a8bc" stroke-width="1.2"/>
<line x1="110.5" x2="194" y1="720.5" y2="720.5" stroke="#a9d3da" stroke-width="1.2"/>
<polyline points="110.3,716.2 113.8,717.6 117.2,712.8 120.6,695.7 123.7,675.2 129.1,665.0 133.9,657.3 137.7,670.1 141.1,670.1 146.2,665.0 151.7,660.7 154.8,681.7 159.1,668.4 162.5,664.1 166.2,667.0 169.3,663.2 172.2,700.0 175.6,679.0 179.6,688.9 182.6,700.0 185.9,681.2 190.0,688.9 193.5,694.0 200.0,690.0 210.0,700.0 220.0,712.0 230.0,700.0 240.0,684.0 246.8,674.4 252.0,665.0 256.2,664.1 261.4,656.4 267.4,638.5 272.5,632.1 275.9,643.6 280.2,641.0 283.6,634.2 287.0,641.9 291.3,631.6 298.1,623.1 307.5,617.4 310.9,654.7 316.9,647.9 324.6,644.8 328.9,660.7 333.2,665.8 335.7,673.5 340.9,670.1 344.3,674.4 349.4,692.3 352.8,686.3 359.7,700.9 369.9,717.9 374.2,695.7 380.2,678.6 385.3,688.9 390.4,689.7 393.8,680.3 397.6,670.9 400.1,685.5 404.4,695.7 407.8,696.6 412.1,707.7 415.5,712.5 418.9,712.0 422.4,683.8 425.8,712.8 430.9,693.2 435.2,689.7 440.3,695.7 446.3,717.1 450.6,707.7 454.0,706.8 460.3,702.2 463.4,716.6 466.8,716.6 470.2,707.7 474.5,716.2 477.1,714.2 483.9,723.4 488.2,712.8 491.6,720.5 497.6,696.1 501.8,704.3 506.1,714.5 508.7,726.8 512.1,671.8 515.5,659.8 518.9,657.8 522.4,663.2 525.8,657.3 531.8,655.0 540.3,646.2 546.8,675.2 550.6,674.4 553.8,671.5 558.5,680.3 564.5,690.9 568.0,668.0 571.4,668.4 574.8,676.1 578.2,673.2 581.6,685.8 585.0,680.3 589.0,688.9 595.3,652.1 598.7,649.6 604.7,638.5 609.8,633.8 614.1,621.9 616.7,620.5 620.1,640.2 623.5,641.9 626.6,640.7 632.9,663.2 636.3,664.6 640.6,681.2 644.0,676.1 647.4,679.0 650.9,687.2 658.0,675.2 662.0,685.1 664.9,661.5 671.7,653.8 675.6,663.6 679.1,661.2 682.5,665.8 685.9,665.0 688.8,640.2 692.7,634.2 696.2,639.3 700.4,632.5 704.7,630.8 711.0,631.6 714.4,635.9 717.3,642.7 720.7,678.6 723.8,661.5 730.6,659.5 734.4,675.2 738.3,669.2 744.3,666.3 748.6,665.0 752.0,649.6 754.9,631.1 758.3,657.3 762.3,668.0 768.2,658.1 772.5,649.6 775.9,639.7 778.8,637.3 782.8,652.1 787.1,652.1 790.1,656.8 793.9,640.2 797.3,637.6 801.6,627.4 806.7,615.4 811.8,610.3 816.1,606.8 821.2,606.0 824.7,646.2 828.1,645.3 831.5,632.5 834.9,632.5 839.2,644.1 841.8,655.0 845.5,637.9 848.6,636.8 852.4,630.8 855.4,640.2 858.8,648.7 863.0,648.7 866.2,659.8 869.9,642.7 873.3,643.1 876.2,663.2 880.2,649.6 883.6,679.5 889.6,665.8 893.8,659.8 897.3,643.6 900.7,654.7 904.1,653.0 908.0,656.4 911.8,651.3 915.2,651.3 918.6,673.5 921.7,679.5 925.5,662.4 928.9,677.3 932.3,677.3 939.1,659.8 942.6,649.2 946.3,653.0 949.4,648.7 953.2,639.3" fill="none" stroke="#68a8b8" stroke-width="1.05" stroke-linejoin="round"/>
<polyline points="110.3,712.5 113.8,713.2 117.2,710.8 120.6,704.3 124.0,697.8 129.1,692.3 133.9,688.5 137.7,691.5 141.1,691.5 146.2,689.2 151.7,688.0 154.8,693.2 159.1,687.5 162.5,686.3 166.2,686.8 169.3,685.5 172.2,695.7 175.6,688.0 179.6,691.5 182.6,696.6 185.9,688.5 190.0,691.5 193.5,693.0 205.0,694.0 220.0,700.0 235.0,696.0 250.0,688.0 262.0,680.0 269.1,674.4 273.3,671.8 276.8,674.4 280.2,673.5 284.1,669.2 287.0,670.9 291.3,665.0 298.1,659.0 307.5,654.4 310.9,665.0 316.9,661.9 324.6,660.2 328.9,664.1 334.9,670.1 338.3,669.2 342.2,668.4 344.3,673.5 349.4,676.1 352.8,674.9 359.7,680.3 369.9,687.2 374.2,682.9 380.2,677.8 385.3,681.2 390.4,681.2 393.8,678.6 397.6,675.2 401.8,682.9 407.8,683.8 413.8,688.5 418.9,689.2 422.4,682.9 425.8,692.3 430.9,686.8 435.2,685.1 440.3,687.2 446.3,695.4 450.6,693.2 454.0,693.2 460.3,692.3 463.4,696.6 466.8,697.4 470.2,694.4 474.5,697.8 477.1,697.1 483.9,700.5 488.2,698.3 491.6,700.9 497.6,694.4 501.8,697.4 506.1,701.7 508.7,704.6 512.1,684.6 515.5,679.5 518.9,678.3 522.4,680.3 525.8,677.8 531.8,676.1 540.3,671.8 546.8,680.3 550.6,679.5 553.8,678.6 558.5,681.7 564.5,685.1 568.0,678.3 571.4,677.8 574.8,680.0 578.2,679.5 581.6,682.9 585.0,680.3 589.0,684.1 595.3,670.9 598.7,669.2 604.7,663.6 609.8,660.7 614.1,653.0 616.7,651.3 620.1,658.1 623.5,659.0 626.6,658.1 632.9,664.6 636.3,664.6 640.6,670.9 644.0,669.7 647.4,670.9 650.9,673.8 658.0,670.4 662.0,673.8 664.9,667.0 671.7,663.6 675.6,666.3 679.1,665.8 682.5,667.0 685.9,666.3 688.8,658.1 692.7,654.7 696.2,655.6 700.4,652.1 704.7,650.9 711.0,651.3 714.4,653.0 717.3,655.6 720.7,665.0 723.8,660.7 730.6,659.5 734.4,664.6 738.3,663.6 744.3,662.4 748.6,662.4 752.0,655.6 754.9,649.9 758.3,659.8 762.3,662.4 768.2,657.3 772.5,654.4 775.9,651.3 778.8,649.9 782.8,654.7 787.1,655.0 790.1,656.4 793.9,650.9 797.3,649.6 801.6,644.8 806.7,635.0 811.8,629.9 816.1,626.0 821.2,623.6 824.7,644.1 828.1,643.6 831.5,636.2 834.9,636.2 839.2,641.9 841.8,647.0 845.5,639.3 848.6,637.9 852.4,635.0 855.4,640.7 858.8,644.4 863.0,644.8 866.2,649.2 869.9,642.7 873.3,642.7 876.2,651.3 880.2,647.5 883.6,661.9 889.6,656.4 893.8,654.4 897.3,646.5 900.7,650.9 904.1,651.3 908.0,653.0 911.8,650.9 915.2,650.9 918.6,659.8 921.7,662.9 925.5,657.3 928.9,663.6 932.3,664.6 939.1,659.0 942.6,653.3 946.3,655.0 949.4,653.3 953.2,648.7" fill="none" stroke="#d61a5e" stroke-width="1.25" stroke-linejoin="round"/>
<line x1="106" x2="957" y1="735.4" y2="735.4" stroke="#3a3a3a" stroke-width="1.7"/>
<line x1="109.7" x2="109.7" y1="735" y2="739.3" stroke="#2a2a2a" stroke-width="1"/>
<line x1="113.2" x2="113.2" y1="735" y2="737.3" stroke="#2a2a2a" stroke-width="1"/>
<line x1="116.6" x2="116.6" y1="735" y2="737.3" stroke="#2a2a2a" stroke-width="1"/>
<line x1="120.1" x2="120.1" y1="735" y2="737.3" stroke="#2a2a2a" stroke-width="1"/>
<line x1="123.6" x2="123.6" y1="735" y2="737.3" stroke="#2a2a2a" stroke-width="1"/>
<line x1="127.1" x2="127.1" y1="735" y2="737.3" stroke="#2a2a2a" stroke-width="1"/>
<line x1="130.5" x2="130.5" y1="735" y2="739.3" stroke="#2a2a2a" stroke-width="1"/>
<line x1="134.0" x2="134.0" y1="735" y2="737.3" stroke="#2a2a2a" stroke-width="1"/>
<line x1="137.5" x2="137.5" y1="735" y2="737.3" stroke="#2a2a2a" stroke-width="1"/>
<line x1="140.9" x2="140.9" y1="735" y2="737.3" stroke="#2a2a2a" stroke-width="1"/>
<line x1="144.4" x2="144.4" y1="735" y2="737.3" stroke="#2a2a2a" stroke-width="1"/>
<line x1="147.9" x2="147.9" y1="735" y2="737.3" stroke="#2a2a2a" stroke-width="1"/>
<line x1="151.3" x2="151.3" y1="735" y2="737.3" stroke="#2a2a2a" stroke-width="1"/>
<line x1="154.8" x2="154.8" y1="735" y2="737.3" stroke="#2a2a2a" stroke-width="1"/>
<line x1="158.3" x2="158.3" y1="735" y2="737.3" stroke="#2a2a2a" stroke-width="1"/>
<line x1="161.8" x2="161.8" y1="735" y2="737.3" stroke="#2a2a2a" stroke-width="1"/>
<line x1="165.2" x2="165.2" y1="735" y2="737.3" stroke="#2a2a2a" stroke-width="1"/>
<line x1="168.7" x2="168.7" y1="735" y2="737.3" stroke="#2a2a2a" stroke-width="1"/>
<line x1="172.2" x2="172.2" y1="735" y2="737.3" stroke="#2a2a2a" stroke-width="1"/>
<line x1="175.6" x2="175.6" y1="735" y2="737.3" stroke="#2a2a2a" stroke-width="1"/>
<line x1="179.1" x2="179.1" y1="735" y2="737.3" stroke="#2a2a2a" stroke-width="1"/>
<line x1="182.6" x2="182.6" y1="735" y2="737.3" stroke="#2a2a2a" stroke-width="1"/>
<line x1="186.0" x2="186.0" y1="735" y2="737.3" stroke="#2a2a2a" stroke-width="1"/>
<line x1="189.5" x2="189.5" y1="735" y2="737.3" stroke="#2a2a2a" stroke-width="1"/>
<line x1="193.0" x2="193.0" y1="735" y2="737.3" stroke="#2a2a2a" stroke-width="1"/>
<line x1="196.4" x2="196.4" y1="735" y2="737.3" stroke="#2a2a2a" stroke-width="1"/>
<line x1="199.9" x2="199.9" y1="735" y2="737.3" stroke="#2a2a2a" stroke-width="1"/>
<line x1="203.4" x2="203.4" y1="735" y2="739.3" stroke="#2a2a2a" stroke-width="1"/>
<line x1="206.9" x2="206.9" y1="735" y2="737.3" stroke="#2a2a2a" stroke-width="1"/>
<line x1="210.3" x2="210.3" y1="735" y2="737.3" stroke="#2a2a2a" stroke-width="1"/>
<line x1="213.8" x2="213.8" y1="735" y2="737.3" stroke="#2a2a2a" stroke-width="1"/>
<line x1="217.3" x2="217.3" y1="735" y2="737.3" stroke="#2a2a2a" stroke-width="1"/>
<line x1="220.7" x2="220.7" y1="735" y2="737.3" stroke="#2a2a2a" stroke-width="1"/>
<line x1="224.2" x2="224.2" y1="735" y2="737.3" stroke="#2a2a2a" stroke-width="1"/>
<line x1="227.7" x2="227.7" y1="735" y2="737.3" stroke="#2a2a2a" stroke-width="1"/>
<line x1="231.2" x2="231.2" y1="735" y2="737.3" stroke="#2a2a2a" stroke-width="1"/>
<line x1="234.6" x2="234.6" y1="735" y2="737.3" stroke="#2a2a2a" stroke-width="1"/>
<line x1="238.1" x2="238.1" y1="735" y2="737.3" stroke="#2a2a2a" stroke-width="1"/>
<line x1="241.6" x2="241.6" y1="735" y2="737.3" stroke="#2a2a2a" stroke-width="1"/>
<line x1="245.0" x2="245.0" y1="735" y2="737.3" stroke="#2a2a2a" stroke-width="1"/>
<line x1="248.5" x2="248.5" y1="735" y2="737.3" stroke="#2a2a2a" stroke-width="1"/>
<line x1="252.0" x2="252.0" y1="735" y2="737.3" stroke="#2a2a2a" stroke-width="1"/>
<line x1="255.4" x2="255.4" y1="735" y2="737.3" stroke="#2a2a2a" stroke-width="1"/>
<line x1="258.9" x2="258.9" y1="735" y2="737.3" stroke="#2a2a2a" stroke-width="1"/>
<line x1="262.4" x2="262.4" y1="735" y2="737.3" stroke="#2a2a2a" stroke-width="1"/>
<line x1="265.9" x2="265.9" y1="735" y2="737.3" stroke="#2a2a2a" stroke-width="1"/>
<line x1="269.3" x2="269.3" y1="735" y2="737.3" stroke="#2a2a2a" stroke-width="1"/>
<line x1="272.8" x2="272.8" y1="735" y2="737.3" stroke="#2a2a2a" stroke-width="1"/>
<line x1="276.3" x2="276.3" y1="735" y2="739.3" stroke="#2a2a2a" stroke-width="1"/>
<line x1="279.7" x2="279.7" y1="735" y2="737.3" stroke="#2a2a2a" stroke-width="1"/>
<line x1="283.2" x2="283.2" y1="735" y2="737.3" stroke="#2a2a2a" stroke-width="1"/>
<line x1="286.7" x2="286.7" y1="735" y2="737.3" stroke="#2a2a2a" stroke-width="1"/>
<line x1="290.1" x2="290.1" y1="735" y2="737.3" stroke="#2a2a2a" stroke-width="1"/>
<line x1="293.6" x2="293.6" y1="735" y2="737.3" stroke="#2a2a2a" stroke-width="1"/>
<line x1="297.1" x2="297.1" y1="735" y2="737.3" stroke="#2a2a2a" stroke-width="1"/>
<line x1="300.6" x2="300.6" y1="735" y2="737.3" stroke="#2a2a2a" stroke-width="1"/>
<line x1="304.0" x2="304.0" y1="735" y2="737.3" stroke="#2a2a2a" stroke-width="1"/>
<line x1="307.5" x2="307.5" y1="735" y2="737.3" stroke="#2a2a2a" stroke-width="1"/>
<line x1="311.0" x2="311.0" y1="735" y2="737.3" stroke="#2a2a2a" stroke-width="1"/>
<line x1="314.4" x2="314.4" y1="735" y2="737.3" stroke="#2a2a2a" stroke-width="1"/>
<line x1="317.9" x2="317.9" y1="735" y2="737.3" stroke="#2a2a2a" stroke-width="1"/>
<line x1="321.4" x2="321.4" y1="735" y2="737.3" stroke="#2a2a2a" stroke-width="1"/>
<line x1="324.8" x2="324.8" y1="735" y2="737.3" stroke="#2a2a2a" stroke-width="1"/>
<line x1="328.3" x2="328.3" y1="735" y2="737.3" stroke="#2a2a2a" stroke-width="1"/>
<line x1="331.8" x2="331.8" y1="735" y2="737.3" stroke="#2a2a2a" stroke-width="1"/>
<line x1="335.2" x2="335.2" y1="735" y2="737.3" stroke="#2a2a2a" stroke-width="1"/>
<line x1="338.7" x2="338.7" y1="735" y2="737.3" stroke="#2a2a2a" stroke-width="1"/>
<line x1="342.2" x2="342.2" y1="735" y2="737.3" stroke="#2a2a2a" stroke-width="1"/>
<line x1="345.7" x2="345.7" y1="735" y2="737.3" stroke="#2a2a2a" stroke-width="1"/>
<line x1="349.1" x2="349.1" y1="735" y2="737.3" stroke="#2a2a2a" stroke-width="1"/>
<line x1="352.6" x2="352.6" y1="735" y2="737.3" stroke="#2a2a2a" stroke-width="1"/>
<line x1="356.1" x2="356.1" y1="735" y2="739.3" stroke="#2a2a2a" stroke-width="1"/>
<line x1="359.5" x2="359.5" y1="735" y2="737.3" stroke="#2a2a2a" stroke-width="1"/>
<line x1="363.0" x2="363.0" y1="735" y2="737.3" stroke="#2a2a2a" stroke-width="1"/>
<line x1="366.5" x2="366.5" y1="735" y2="737.3" stroke="#2a2a2a" stroke-width="1"/>
<line x1="369.9" x2="369.9" y1="735" y2="737.3" stroke="#2a2a2a" stroke-width="1"/>
<line x1="373.4" x2="373.4" y1="735" y2="737.3" stroke="#2a2a2a" stroke-width="1"/>
<line x1="376.9" x2="376.9" y1="735" y2="737.3" stroke="#2a2a2a" stroke-width="1"/>
<line x1="380.4" x2="380.4" y1="735" y2="737.3" stroke="#2a2a2a" stroke-width="1"/>
<line x1="383.8" x2="383.8" y1="735" y2="737.3" stroke="#2a2a2a" stroke-width="1"/>
<line x1="387.3" x2="387.3" y1="735" y2="737.3" stroke="#2a2a2a" stroke-width="1"/>
<line x1="390.8" x2="390.8" y1="735" y2="737.3" stroke="#2a2a2a" stroke-width="1"/>
<line x1="394.2" x2="394.2" y1="735" y2="737.3" stroke="#2a2a2a" stroke-width="1"/>
<line x1="397.7" x2="397.7" y1="735" y2="737.3" stroke="#2a2a2a" stroke-width="1"/>
<line x1="401.2" x2="401.2" y1="735" y2="737.3" stroke="#2a2a2a" stroke-width="1"/>
<line x1="404.6" x2="404.6" y1="735" y2="737.3" stroke="#2a2a2a" stroke-width="1"/>
<line x1="408.1" x2="408.1" y1="735" y2="737.3" stroke="#2a2a2a" stroke-width="1"/>
<line x1="411.6" x2="411.6" y1="735" y2="737.3" stroke="#2a2a2a" stroke-width="1"/>
<line x1="415.1" x2="415.1" y1="735" y2="737.3" stroke="#2a2a2a" stroke-width="1"/>
<line x1="418.5" x2="418.5" y1="735" y2="737.3" stroke="#2a2a2a" stroke-width="1"/>
<line x1="422.0" x2="422.0" y1="735" y2="737.3" stroke="#2a2a2a" stroke-width="1"/>
<line x1="425.5" x2="425.5" y1="735" y2="737.3" stroke="#2a2a2a" stroke-width="1"/>
<line x1="428.9" x2="428.9" y1="735" y2="739.3" stroke="#2a2a2a" stroke-width="1"/>
<line x1="432.4" x2="432.4" y1="735" y2="737.3" stroke="#2a2a2a" stroke-width="1"/>
<line x1="435.9" x2="435.9" y1="735" y2="737.3" stroke="#2a2a2a" stroke-width="1"/>
<line x1="439.4" x2="439.4" y1="735" y2="737.3" stroke="#2a2a2a" stroke-width="1"/>
<line x1="442.8" x2="442.8" y1="735" y2="737.3" stroke="#2a2a2a" stroke-width="1"/>
<line x1="446.3" x2="446.3" y1="735" y2="737.3" stroke="#2a2a2a" stroke-width="1"/>
<line x1="449.8" x2="449.8" y1="735" y2="737.3" stroke="#2a2a2a" stroke-width="1"/>
<line x1="453.2" x2="453.2" y1="735" y2="737.3" stroke="#2a2a2a" stroke-width="1"/>
<line x1="456.7" x2="456.7" y1="735" y2="737.3" stroke="#2a2a2a" stroke-width="1"/>
<line x1="460.2" x2="460.2" y1="735" y2="737.3" stroke="#2a2a2a" stroke-width="1"/>
<line x1="463.6" x2="463.6" y1="735" y2="737.3" stroke="#2a2a2a" stroke-width="1"/>
<line x1="467.1" x2="467.1" y1="735" y2="737.3" stroke="#2a2a2a" stroke-width="1"/>
<line x1="470.6" x2="470.6" y1="735" y2="737.3" stroke="#2a2a2a" stroke-width="1"/>
<line x1="474.1" x2="474.1" y1="735" y2="737.3" stroke="#2a2a2a" stroke-width="1"/>
<line x1="477.5" x2="477.5" y1="735" y2="737.3" stroke="#2a2a2a" stroke-width="1"/>
<line x1="481.0" x2="481.0" y1="735" y2="737.3" stroke="#2a2a2a" stroke-width="1"/>
<line x1="484.5" x2="484.5" y1="735" y2="737.3" stroke="#2a2a2a" stroke-width="1"/>
<line x1="487.9" x2="487.9" y1="735" y2="737.3" stroke="#2a2a2a" stroke-width="1"/>
<line x1="491.4" x2="491.4" y1="735" y2="737.3" stroke="#2a2a2a" stroke-width="1"/>
<line x1="494.9" x2="494.9" y1="735" y2="737.3" stroke="#2a2a2a" stroke-width="1"/>
<line x1="498.3" x2="498.3" y1="735" y2="739.3" stroke="#2a2a2a" stroke-width="1"/>
<line x1="501.8" x2="501.8" y1="735" y2="737.3" stroke="#2a2a2a" stroke-width="1"/>
<line x1="505.3" x2="505.3" y1="735" y2="737.3" stroke="#2a2a2a" stroke-width="1"/>
<line x1="508.8" x2="508.8" y1="735" y2="737.3" stroke="#2a2a2a" stroke-width="1"/>
<line x1="512.2" x2="512.2" y1="735" y2="737.3" stroke="#2a2a2a" stroke-width="1"/>
<line x1="515.7" x2="515.7" y1="735" y2="737.3" stroke="#2a2a2a" stroke-width="1"/>
<line x1="519.2" x2="519.2" y1="735" y2="737.3" stroke="#2a2a2a" stroke-width="1"/>
<line x1="522.6" x2="522.6" y1="735" y2="737.3" stroke="#2a2a2a" stroke-width="1"/>
<line x1="526.1" x2="526.1" y1="735" y2="737.3" stroke="#2a2a2a" stroke-width="1"/>
<line x1="529.6" x2="529.6" y1="735" y2="737.3" stroke="#2a2a2a" stroke-width="1"/>
<line x1="533.0" x2="533.0" y1="735" y2="737.3" stroke="#2a2a2a" stroke-width="1"/>
<line x1="536.5" x2="536.5" y1="735" y2="737.3" stroke="#2a2a2a" stroke-width="1"/>
<line x1="540.0" x2="540.0" y1="735" y2="737.3" stroke="#2a2a2a" stroke-width="1"/>
<line x1="543.5" x2="543.5" y1="735" y2="737.3" stroke="#2a2a2a" stroke-width="1"/>
<line x1="546.9" x2="546.9" y1="735" y2="737.3" stroke="#2a2a2a" stroke-width="1"/>
<line x1="550.4" x2="550.4" y1="735" y2="737.3" stroke="#2a2a2a" stroke-width="1"/>
<line x1="553.9" x2="553.9" y1="735" y2="737.3" stroke="#2a2a2a" stroke-width="1"/>
<line x1="557.3" x2="557.3" y1="735" y2="737.3" stroke="#2a2a2a" stroke-width="1"/>
<line x1="560.8" x2="560.8" y1="735" y2="737.3" stroke="#2a2a2a" stroke-width="1"/>
<line x1="564.3" x2="564.3" y1="735" y2="737.3" stroke="#2a2a2a" stroke-width="1"/>
<line x1="567.7" x2="567.7" y1="735" y2="737.3" stroke="#2a2a2a" stroke-width="1"/>
<line x1="571.2" x2="571.2" y1="735" y2="737.3" stroke="#2a2a2a" stroke-width="1"/>
<line x1="574.7" x2="574.7" y1="735" y2="739.3" stroke="#2a2a2a" stroke-width="1"/>
<line x1="578.2" x2="578.2" y1="735" y2="737.3" stroke="#2a2a2a" stroke-width="1"/>
<line x1="581.6" x2="581.6" y1="735" y2="737.3" stroke="#2a2a2a" stroke-width="1"/>
<line x1="585.1" x2="585.1" y1="735" y2="737.3" stroke="#2a2a2a" stroke-width="1"/>
<line x1="588.6" x2="588.6" y1="735" y2="737.3" stroke="#2a2a2a" stroke-width="1"/>
<line x1="592.0" x2="592.0" y1="735" y2="737.3" stroke="#2a2a2a" stroke-width="1"/>
<line x1="595.5" x2="595.5" y1="735" y2="737.3" stroke="#2a2a2a" stroke-width="1"/>
<line x1="599.0" x2="599.0" y1="735" y2="737.3" stroke="#2a2a2a" stroke-width="1"/>
<line x1="602.4" x2="602.4" y1="735" y2="737.3" stroke="#2a2a2a" stroke-width="1"/>
<line x1="605.9" x2="605.9" y1="735" y2="737.3" stroke="#2a2a2a" stroke-width="1"/>
<line x1="609.4" x2="609.4" y1="735" y2="737.3" stroke="#2a2a2a" stroke-width="1"/>
<line x1="612.9" x2="612.9" y1="735" y2="737.3" stroke="#2a2a2a" stroke-width="1"/>
<line x1="616.3" x2="616.3" y1="735" y2="737.3" stroke="#2a2a2a" stroke-width="1"/>
<line x1="619.8" x2="619.8" y1="735" y2="737.3" stroke="#2a2a2a" stroke-width="1"/>
<line x1="623.3" x2="623.3" y1="735" y2="737.3" stroke="#2a2a2a" stroke-width="1"/>
<line x1="626.7" x2="626.7" y1="735" y2="737.3" stroke="#2a2a2a" stroke-width="1"/>
<line x1="630.2" x2="630.2" y1="735" y2="737.3" stroke="#2a2a2a" stroke-width="1"/>
<line x1="633.7" x2="633.7" y1="735" y2="737.3" stroke="#2a2a2a" stroke-width="1"/>
<line x1="637.1" x2="637.1" y1="735" y2="737.3" stroke="#2a2a2a" stroke-width="1"/>
<line x1="640.6" x2="640.6" y1="735" y2="737.3" stroke="#2a2a2a" stroke-width="1"/>
<line x1="644.1" x2="644.1" y1="735" y2="737.3" stroke="#2a2a2a" stroke-width="1"/>
<line x1="647.6" x2="647.6" y1="735" y2="737.3" stroke="#2a2a2a" stroke-width="1"/>
<line x1="651.0" x2="651.0" y1="735" y2="739.3" stroke="#2a2a2a" stroke-width="1"/>
<line x1="654.5" x2="654.5" y1="735" y2="737.3" stroke="#2a2a2a" stroke-width="1"/>
<line x1="658.0" x2="658.0" y1="735" y2="737.3" stroke="#2a2a2a" stroke-width="1"/>
<line x1="661.4" x2="661.4" y1="735" y2="737.3" stroke="#2a2a2a" stroke-width="1"/>
<line x1="664.9" x2="664.9" y1="735" y2="737.3" stroke="#2a2a2a" stroke-width="1"/>
<line x1="668.4" x2="668.4" y1="735" y2="737.3" stroke="#2a2a2a" stroke-width="1"/>
<line x1="671.8" x2="671.8" y1="735" y2="737.3" stroke="#2a2a2a" stroke-width="1"/>
<line x1="675.3" x2="675.3" y1="735" y2="737.3" stroke="#2a2a2a" stroke-width="1"/>
<line x1="678.8" x2="678.8" y1="735" y2="737.3" stroke="#2a2a2a" stroke-width="1"/>
<line x1="682.3" x2="682.3" y1="735" y2="737.3" stroke="#2a2a2a" stroke-width="1"/>
<line x1="685.7" x2="685.7" y1="735" y2="737.3" stroke="#2a2a2a" stroke-width="1"/>
<line x1="689.2" x2="689.2" y1="735" y2="737.3" stroke="#2a2a2a" stroke-width="1"/>
<line x1="692.7" x2="692.7" y1="735" y2="737.3" stroke="#2a2a2a" stroke-width="1"/>
<line x1="696.1" x2="696.1" y1="735" y2="739.3" stroke="#2a2a2a" stroke-width="1"/>
<line x1="699.6" x2="699.6" y1="735" y2="737.3" stroke="#2a2a2a" stroke-width="1"/>
<line x1="703.1" x2="703.1" y1="735" y2="737.3" stroke="#2a2a2a" stroke-width="1"/>
<line x1="706.5" x2="706.5" y1="735" y2="737.3" stroke="#2a2a2a" stroke-width="1"/>
<line x1="710.0" x2="710.0" y1="735" y2="737.3" stroke="#2a2a2a" stroke-width="1"/>
<line x1="713.5" x2="713.5" y1="735" y2="737.3" stroke="#2a2a2a" stroke-width="1"/>
<line x1="717.0" x2="717.0" y1="735" y2="737.3" stroke="#2a2a2a" stroke-width="1"/>
<line x1="720.4" x2="720.4" y1="735" y2="737.3" stroke="#2a2a2a" stroke-width="1"/>
<line x1="723.9" x2="723.9" y1="735" y2="737.3" stroke="#2a2a2a" stroke-width="1"/>
<line x1="727.4" x2="727.4" y1="735" y2="737.3" stroke="#2a2a2a" stroke-width="1"/>
<line x1="730.8" x2="730.8" y1="735" y2="737.3" stroke="#2a2a2a" stroke-width="1"/>
<line x1="734.3" x2="734.3" y1="735" y2="737.3" stroke="#2a2a2a" stroke-width="1"/>
<line x1="737.8" x2="737.8" y1="735" y2="737.3" stroke="#2a2a2a" stroke-width="1"/>
<line x1="741.2" x2="741.2" y1="735" y2="737.3" stroke="#2a2a2a" stroke-width="1"/>
<line x1="744.7" x2="744.7" y1="735" y2="737.3" stroke="#2a2a2a" stroke-width="1"/>
<line x1="748.2" x2="748.2" y1="735" y2="737.3" stroke="#2a2a2a" stroke-width="1"/>
<line x1="751.7" x2="751.7" y1="735" y2="737.3" stroke="#2a2a2a" stroke-width="1"/>
<line x1="755.1" x2="755.1" y1="735" y2="737.3" stroke="#2a2a2a" stroke-width="1"/>
<line x1="758.6" x2="758.6" y1="735" y2="739.3" stroke="#2a2a2a" stroke-width="1"/>
<line x1="762.1" x2="762.1" y1="735" y2="737.3" stroke="#2a2a2a" stroke-width="1"/>
<line x1="765.5" x2="765.5" y1="735" y2="737.3" stroke="#2a2a2a" stroke-width="1"/>
<line x1="769.0" x2="769.0" y1="735" y2="737.3" stroke="#2a2a2a" stroke-width="1"/>
<line x1="772.5" x2="772.5" y1="735" y2="737.3" stroke="#2a2a2a" stroke-width="1"/>
<line x1="775.9" x2="775.9" y1="735" y2="737.3" stroke="#2a2a2a" stroke-width="1"/>
<line x1="779.4" x2="779.4" y1="735" y2="737.3" stroke="#2a2a2a" stroke-width="1"/>
<line x1="782.9" x2="782.9" y1="735" y2="737.3" stroke="#2a2a2a" stroke-width="1"/>
<line x1="786.4" x2="786.4" y1="735" y2="737.3" stroke="#2a2a2a" stroke-width="1"/>
<line x1="789.8" x2="789.8" y1="735" y2="737.3" stroke="#2a2a2a" stroke-width="1"/>
<line x1="793.3" x2="793.3" y1="735" y2="737.3" stroke="#2a2a2a" stroke-width="1"/>
<line x1="796.8" x2="796.8" y1="735" y2="737.3" stroke="#2a2a2a" stroke-width="1"/>
<line x1="800.2" x2="800.2" y1="735" y2="737.3" stroke="#2a2a2a" stroke-width="1"/>
<line x1="803.7" x2="803.7" y1="735" y2="737.3" stroke="#2a2a2a" stroke-width="1"/>
<line x1="807.2" x2="807.2" y1="735" y2="737.3" stroke="#2a2a2a" stroke-width="1"/>
<line x1="810.6" x2="810.6" y1="735" y2="737.3" stroke="#2a2a2a" stroke-width="1"/>
<line x1="814.1" x2="814.1" y1="735" y2="737.3" stroke="#2a2a2a" stroke-width="1"/>
<line x1="817.6" x2="817.6" y1="735" y2="737.3" stroke="#2a2a2a" stroke-width="1"/>
<line x1="821.1" x2="821.1" y1="735" y2="737.3" stroke="#2a2a2a" stroke-width="1"/>
<line x1="824.5" x2="824.5" y1="735" y2="737.3" stroke="#2a2a2a" stroke-width="1"/>
<line x1="828.0" x2="828.0" y1="735" y2="737.3" stroke="#2a2a2a" stroke-width="1"/>
<line x1="831.5" x2="831.5" y1="735" y2="737.3" stroke="#2a2a2a" stroke-width="1"/>
<line x1="834.9" x2="834.9" y1="735" y2="737.3" stroke="#2a2a2a" stroke-width="1"/>
<line x1="838.4" x2="838.4" y1="735" y2="739.3" stroke="#2a2a2a" stroke-width="1"/>
<line x1="841.9" x2="841.9" y1="735" y2="737.3" stroke="#2a2a2a" stroke-width="1"/>
<line x1="845.3" x2="845.3" y1="735" y2="737.3" stroke="#2a2a2a" stroke-width="1"/>
<line x1="848.8" x2="848.8" y1="735" y2="737.3" stroke="#2a2a2a" stroke-width="1"/>
<line x1="852.3" x2="852.3" y1="735" y2="737.3" stroke="#2a2a2a" stroke-width="1"/>
<line x1="855.8" x2="855.8" y1="735" y2="737.3" stroke="#2a2a2a" stroke-width="1"/>
<line x1="859.2" x2="859.2" y1="735" y2="737.3" stroke="#2a2a2a" stroke-width="1"/>
<line x1="862.7" x2="862.7" y1="735" y2="737.3" stroke="#2a2a2a" stroke-width="1"/>
<line x1="866.2" x2="866.2" y1="735" y2="737.3" stroke="#2a2a2a" stroke-width="1"/>
<line x1="869.6" x2="869.6" y1="735" y2="737.3" stroke="#2a2a2a" stroke-width="1"/>
<line x1="873.1" x2="873.1" y1="735" y2="737.3" stroke="#2a2a2a" stroke-width="1"/>
<line x1="876.6" x2="876.6" y1="735" y2="737.3" stroke="#2a2a2a" stroke-width="1"/>
<line x1="880.0" x2="880.0" y1="735" y2="737.3" stroke="#2a2a2a" stroke-width="1"/>
<line x1="883.5" x2="883.5" y1="735" y2="737.3" stroke="#2a2a2a" stroke-width="1"/>
<line x1="887.0" x2="887.0" y1="735" y2="737.3" stroke="#2a2a2a" stroke-width="1"/>
<line x1="890.5" x2="890.5" y1="735" y2="737.3" stroke="#2a2a2a" stroke-width="1"/>
<line x1="893.9" x2="893.9" y1="735" y2="737.3" stroke="#2a2a2a" stroke-width="1"/>
<line x1="897.4" x2="897.4" y1="735" y2="739.3" stroke="#2a2a2a" stroke-width="1"/>
<line x1="900.9" x2="900.9" y1="735" y2="737.3" stroke="#2a2a2a" stroke-width="1"/>
<line x1="904.3" x2="904.3" y1="735" y2="737.3" stroke="#2a2a2a" stroke-width="1"/>
<line x1="907.8" x2="907.8" y1="735" y2="737.3" stroke="#2a2a2a" stroke-width="1"/>
<line x1="911.3" x2="911.3" y1="735" y2="737.3" stroke="#2a2a2a" stroke-width="1"/>
<line x1="914.7" x2="914.7" y1="735" y2="737.3" stroke="#2a2a2a" stroke-width="1"/>
<line x1="918.2" x2="918.2" y1="735" y2="737.3" stroke="#2a2a2a" stroke-width="1"/>
<line x1="921.7" x2="921.7" y1="735" y2="737.3" stroke="#2a2a2a" stroke-width="1"/>
<line x1="925.2" x2="925.2" y1="735" y2="737.3" stroke="#2a2a2a" stroke-width="1"/>
<line x1="928.6" x2="928.6" y1="735" y2="737.3" stroke="#2a2a2a" stroke-width="1"/>
<line x1="932.1" x2="932.1" y1="735" y2="737.3" stroke="#2a2a2a" stroke-width="1"/>
<line x1="935.6" x2="935.6" y1="735" y2="737.3" stroke="#2a2a2a" stroke-width="1"/>
<line x1="939.0" x2="939.0" y1="735" y2="737.3" stroke="#2a2a2a" stroke-width="1"/>
<line x1="942.5" x2="942.5" y1="735" y2="737.3" stroke="#2a2a2a" stroke-width="1"/>
<line x1="946.0" x2="946.0" y1="735" y2="737.3" stroke="#2a2a2a" stroke-width="1"/>
<line x1="949.4" x2="949.4" y1="735" y2="737.3" stroke="#2a2a2a" stroke-width="1"/>
<line x1="952.9" x2="952.9" y1="735" y2="739.3" stroke="#2a2a2a" stroke-width="1"/>
<rect x="194" y="674.5" width="155.5" height="61.7" fill="#fff"/>
<text x="194" y="698.6" font-size="26.1" font-weight="bold" fill="#d81564">RSI30(71.20)</text>
<text x="194" y="728.8" font-size="26.1" font-weight="bold" fill="#168dbd">RSI10(76.32)</text>
<line x1="106.6" x2="106.6" y1="88" y2="736" stroke="#4a4a4a" stroke-width="1.4"/>
<line x1="956.4" x2="956.4" y1="88" y2="736" stroke="#4a4a4a" stroke-width="1.4"/>
<line x1="104" x2="107" y1="88.5" y2="88.5" stroke="#4a4a4a" stroke-width="1.2"/>
<line x1="104.5" x2="107" y1="517.0" y2="517.0" stroke="#4a4a4a" stroke-width="1"/>
<line x1="104.5" x2="107" y1="561.0" y2="561.0" stroke="#4a4a4a" stroke-width="1"/>
<line x1="104.5" x2="107" y1="648.4" y2="648.4" stroke="#4a4a4a" stroke-width="1"/>
<line x1="104.5" x2="107" y1="689.4" y2="689.4" stroke="#4a4a4a" stroke-width="1"/>
<text x="103.4" y="112.2" font-size="25.5" font-weight="bold" text-anchor="end" fill="#000">61.6</text>
<text x="103.4" y="161.5" font-size="25.5" font-weight="bold" text-anchor="end" fill="#000">54.4</text>
<text x="103.4" y="225.9" font-size="25.5" font-weight="bold" text-anchor="end" fill="#000">47.1</text>
<text x="103.4" y="290.5" font-size="25.5" font-weight="bold" text-anchor="end" fill="#000">39.9</text>
<text x="103.4" y="354.8" font-size="25.5" font-weight="bold" text-anchor="end" fill="#000">32.6</text>
<text x="103.4" y="419.3" font-size="25.5" font-weight="bold" text-anchor="end" fill="#000">25.3</text>
<text x="103.4" y="467.0" font-size="25.5" font-weight="bold" text-anchor="end" fill="#000">18.1</text>
<text x="103.4" y="498.2" font-size="25.5" font-weight="bold" text-anchor="end" fill="#000">171419</text>
<text x="103.4" y="526.2" font-size="25.5" font-weight="bold" text-anchor="end" fill="#000">115232</text>
<text x="103.4" y="569.6" font-size="25.5" font-weight="bold" text-anchor="end" fill="#000">59046</text>
<text x="103.4" y="598.2" font-size="25.5" font-weight="bold" text-anchor="end" fill="#000">2859</text>
<text x="103.4" y="627.9" font-size="25.5" font-weight="bold" text-anchor="end" fill="#000">95</text>
<text x="103.4" y="656.9" font-size="25.5" font-weight="bold" text-anchor="end" fill="#000">71</text>
<text x="103.4" y="701.3" font-size="25.5" font-weight="bold" text-anchor="end" fill="#000">48</text>
<text x="103.4" y="728.7" font-size="25.5" font-weight="bold" text-anchor="end" fill="#000">24</text>
<text x="110.5" y="765" font-size="25" font-weight="bold" text-anchor="middle" fill="#000">5</text>
<text x="131.3" y="765" font-size="25" font-weight="bold" text-anchor="middle" fill="#000">6</text>
<text x="204.2" y="765" font-size="25" font-weight="bold" text-anchor="middle" fill="#000">7</text>
<text x="277.1" y="765" font-size="25" font-weight="bold" text-anchor="middle" fill="#000">8</text>
<text x="356.9" y="765" font-size="25" font-weight="bold" text-anchor="middle" fill="#000">9</text>
<text x="429.7" y="765" font-size="25" font-weight="bold" text-anchor="middle" fill="#000">10</text>
<text x="499.1" y="765" font-size="25" font-weight="bold" text-anchor="middle" fill="#000">11</text>
<text x="575.5" y="765" font-size="25" font-weight="bold" text-anchor="middle" fill="#000">12</text>
<text x="651.8" y="765" font-size="25" font-weight="bold" text-anchor="middle" fill="#000">1</text>
<text x="696.9" y="765" font-size="25" font-weight="bold" text-anchor="middle" fill="#000">2</text>
<text x="759.4" y="765" font-size="25" font-weight="bold" text-anchor="middle" fill="#000">3</text>
<text x="839.2" y="765" font-size="25" font-weight="bold" text-anchor="middle" fill="#000">4</text>
<text x="898.2" y="765" font-size="25" font-weight="bold" text-anchor="middle" fill="#000">5</text>
<text x="928" y="764.9" font-size="25" font-weight="bold" fill="#000">5/24</text>
<text x="103" y="794.3" font-size="25" font-weight="bold" fill="#000">111</text>
<text x="644" y="794.3" font-size="25" font-weight="bold" fill="#000">112</text>
<text x="106" y="34.5" font-size="35" font-weight="bold" fill="#000" xml:space="preserve">3231  <tspan font-weight="400" dy="1.5" font-size="33.4" letter-spacing="1.6">緯創資通</tspan><tspan dy="-1.5"> 1120524(</tspan><tspan font-weight="400" dy="1.5" font-size="33.4" letter-spacing="1.6">日線圖</tspan><tspan dy="-1.5">)</tspan></text>
<text x="106" y="74.3" font-size="32" font-weight="bold" fill="#000" xml:space="preserve"><tspan font-weight="400" dy="1.5">開</tspan><tspan dy="-1.5">:54.1 </tspan><tspan font-weight="400" dy="1.5">高</tspan><tspan dy="-1.5">:56.6 </tspan><tspan font-weight="400" dy="1.5">低</tspan><tspan dy="-1.5">:53.6 </tspan><tspan font-weight="400" dy="1.5">收</tspan><tspan dy="-1.5">:56.1 </tspan><tspan font-weight="400" dy="1.5">量</tspan><tspan dy="-1.5">:95956 </tspan><tspan font-weight="400" dy="1.5">漲</tspan><tspan dy="-1.5"> 2.5</tspan></text>
<text x="829" y="40" font-size="31.3" font-weight="400" fill="#000">時報資訊</text>
</svg>
</body></html>
